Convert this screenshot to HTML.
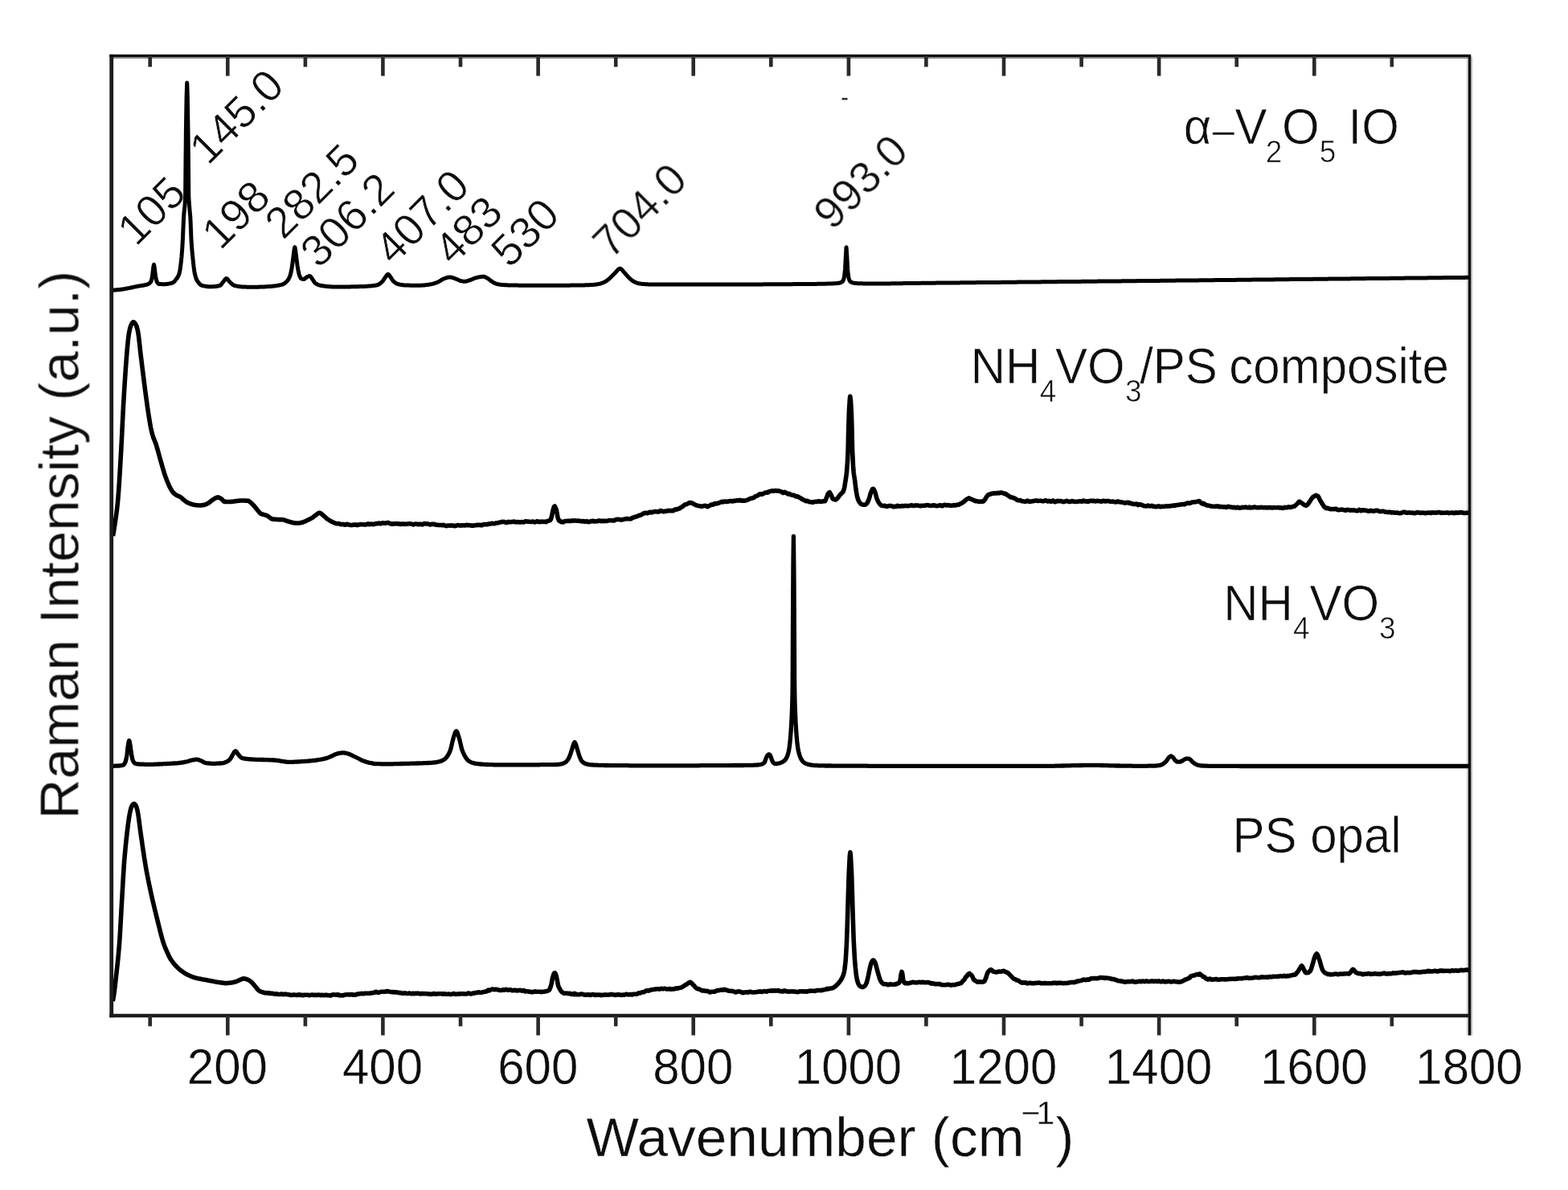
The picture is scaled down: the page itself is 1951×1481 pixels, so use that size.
<!DOCTYPE html>
<html lang="en">
<head>
<meta charset="utf-8">
<title>Raman spectra</title>
<style>
html,body{margin:0;padding:0;background:#fff;}
body{width:1951px;height:1481px;overflow:hidden;}
svg{display:block;}
text{font-family:"Liberation Sans","DejaVu Sans",sans-serif;fill:#111;white-space:pre;}
.tick{font-size:60px;text-anchor:middle;stroke:#fff;stroke-width:0.4;}
.axl{font-size:69.4px;stroke:#fff;stroke-width:0.4;}
.leg{font-size:60px;stroke:#fff;stroke-width:0.6;}
.pk{font-size:55px;stroke:#fff;stroke-width:0.6;}
.c{fill:none;stroke:#000;stroke-linejoin:round;stroke-linecap:butt;}
.fr{fill:none;stroke:#1e1e1e;stroke-width:4.6;}
.tk{stroke:#2a2a2a;stroke-width:4.6;fill:none;}
</style>
</head>
<body>
<svg width="1951" height="1481" viewBox="0 0 1951 1481">
<defs><filter id="soft" x="-2%" y="-2%" width="104%" height="104%"><feGaussianBlur stdDeviation="0.7"/></filter>
<filter id="softt" x="-5%" y="-5%" width="110%" height="110%"><feGaussianBlur stdDeviation="0.65"/></filter></defs>
<rect x="0" y="0" width="1951" height="1481" fill="#fff"/>

<g filter="url(#softt)">
<text class="pk" transform="translate(169.3,308) rotate(-45)">105</text>
<text class="pk" transform="translate(258.8,207) rotate(-45)">145.0</text>
<text class="pk" transform="translate(274.2,312.8) rotate(-45)">198</text>
<text class="pk" transform="translate(352.6,299.8) rotate(-45)">282.5</text>
<text class="pk" transform="translate(396.8,335.4) rotate(-45)">306.2</text>
<text class="pk" transform="translate(489.5,331.6) rotate(-45)">407.0</text>
<text class="pk" transform="translate(563.6,332) rotate(-45)">483</text>
<text class="pk" transform="translate(634,335.1) rotate(-45)">530</text>
<text class="pk" transform="translate(760.4,323.8) rotate(-45)">704.0</text>
<text class="pk" transform="translate(1035.4,288.2) rotate(-45)">993.0</text>
</g>
<g filter="url(#soft)">
<path style="fill:none;stroke:#c9c9c9;stroke-width:7.4" d="M1828.6,71.3 L1828.6,1288.6"/>
<path style="fill:none;stroke:#8c8c8c;stroke-width:2.4" d="M138.7,71.89999999999999 L1828.6,71.89999999999999"/>
<path class="c" stroke-width="5.0" d="M139.0,361.3 140.0,361.2 141.0,361.2 142.0,361.1 143.0,361.0 144.0,360.9 145.0,360.8 146.0,360.7 147.0,360.6 148.0,360.5 149.0,360.4 150.0,360.3 151.0,360.2 152.0,360.0 153.0,359.9 154.0,359.7 155.0,359.6 156.0,359.4 157.0,359.2 158.0,359.0 159.0,358.8 160.0,358.6 161.0,358.4 162.0,358.2 163.0,358.0 164.0,357.8 165.0,357.6 166.0,357.3 167.0,357.1 168.0,356.9 169.0,356.7 170.0,356.5 171.0,356.3 172.0,356.1 173.0,355.9 174.0,355.8 175.0,355.6 176.0,355.5 177.0,355.3 178.0,355.2 179.0,355.0 180.0,354.8 181.0,354.6 182.0,354.3 183.0,354.0 184.0,353.7 184.5,353.5 185.0,353.3 186.0,352.6 187.0,351.6 187.8,350.5 188.0,350.1 189.0,346.5 189.3,345.0 190.0,339.5 190.3,337.0 191.0,331.3 191.5,329.3 192.0,331.3 192.7,337.0 193.0,339.5 193.7,345.0 194.0,346.5 195.0,350.1 195.2,350.5 196.0,351.9 197.0,353.1 197.6,353.4 198.0,353.4 199.0,353.5 200.0,353.6 201.0,353.6 202.0,353.7 203.0,353.7 204.0,353.7 204.3,353.7 205.0,353.7 206.0,353.6 207.0,353.6 208.0,353.5 209.0,353.3 210.0,353.1 211.0,352.9 212.0,352.7 213.0,352.4 214.0,352.2 214.5,352.0 215.0,351.8 216.0,351.2 217.0,350.2 218.0,349.1 219.0,347.8 219.9,346.6 220.0,346.5 221.0,345.0 222.0,343.1 223.0,340.5 223.2,339.9 224.0,336.1 225.0,328.7 225.9,320.3 226.0,319.3 227.0,305.2 227.3,300.0 228.0,283.6 228.6,270.0 229.0,264.8 230.0,255.8 230.6,244.0 231.0,200.0 231.4,162.0 232.0,124.2 232.1,120.0 232.7,103.0 233.0,108.6 233.3,120.0 234.0,162.0 234.4,200.0 234.8,244.0 235.0,249.0 236.0,261.4 236.8,270.0 237.0,273.9 238.0,298.3 238.1,300.0 239.0,312.0 239.8,320.3 240.0,322.3 241.0,331.6 242.0,338.9 242.2,339.9 243.0,343.3 244.0,346.6 244.9,348.6 245.0,348.8 246.0,350.3 247.0,351.7 248.0,352.9 249.0,353.9 250.0,354.7 251.0,355.2 251.6,355.4 252.0,355.5 253.0,355.7 254.0,355.9 255.0,356.1 256.0,356.3 257.0,356.5 258.0,356.6 259.0,356.7 260.0,356.7 261.0,356.8 262.0,356.8 263.0,356.8 264.0,356.8 265.0,356.7 266.0,356.6 267.0,356.6 268.0,356.5 269.0,356.3 270.0,356.2 271.0,356.0 272.0,355.8 273.0,355.6 273.5,355.5 274.0,355.3 275.0,354.4 276.0,353.1 277.0,351.8 278.0,350.5 279.0,349.2 280.0,347.8 281.0,346.8 281.7,346.5 282.0,346.6 283.0,347.3 284.0,348.6 285.0,350.0 285.5,350.5 286.0,351.0 287.0,351.9 288.0,352.9 289.0,353.7 290.0,354.5 291.0,355.1 292.0,355.5 293.0,355.7 294.0,355.9 295.0,356.1 296.0,356.3 297.0,356.5 298.0,356.6 299.0,356.7 300.0,356.8 301.0,356.9 302.0,356.9 303.0,357.0 304.0,357.0 305.0,357.1 306.0,357.1 307.0,357.2 308.0,357.2 309.0,357.2 310.0,357.2 311.0,357.3 312.0,357.3 313.0,357.3 314.0,357.3 314.5,357.3 315.0,357.3 316.0,357.3 317.0,357.3 318.0,357.3 319.0,357.3 320.0,357.2 321.0,357.2 322.0,357.2 323.0,357.1 324.0,357.1 325.0,357.1 326.0,357.0 327.0,357.0 328.0,356.9 329.0,356.9 330.0,356.8 331.0,356.7 332.0,356.7 333.0,356.6 334.0,356.6 335.0,356.5 336.0,356.4 337.0,356.4 338.0,356.3 339.0,356.2 340.0,356.1 341.0,356.0 342.0,355.9 343.0,355.7 344.0,355.6 345.0,355.4 346.0,355.2 347.0,355.1 348.0,354.8 349.0,354.6 350.0,354.4 351.0,354.1 351.4,354.0 352.0,353.8 353.0,353.3 354.0,352.7 355.0,351.9 356.0,351.0 357.0,350.0 358.0,348.8 359.0,347.3 360.0,345.4 360.8,343.5 361.0,343.0 362.0,339.2 363.0,334.1 363.2,333.0 364.0,327.2 364.9,320.0 365.0,319.3 366.0,311.0 366.8,307.6 367.0,307.9 368.0,314.2 368.7,320.0 369.0,322.3 370.0,330.3 370.4,333.0 371.0,336.3 372.0,340.9 372.5,342.5 373.0,343.9 374.0,346.0 374.5,346.5 375.0,346.8 376.0,347.2 377.0,347.4 378.0,347.5 379.0,347.1 380.0,346.2 381.0,345.3 381.5,345.0 382.0,344.7 383.0,344.2 384.0,343.8 385.0,343.5 385.3,343.5 386.0,343.8 387.0,344.9 388.0,346.3 388.5,347.0 389.0,347.7 390.0,349.3 391.0,350.9 392.0,352.2 392.4,352.5 393.0,352.9 394.0,353.5 395.0,354.0 396.0,354.4 397.0,354.8 398.0,355.1 399.0,355.3 400.0,355.5 401.0,355.7 402.0,355.8 403.0,355.9 404.0,356.1 405.0,356.2 406.0,356.3 407.0,356.4 408.0,356.5 409.0,356.6 410.0,356.7 411.0,356.8 412.0,356.8 413.0,356.9 414.0,356.9 415.0,357.0 416.0,357.0 417.0,357.0 418.0,357.0 419.0,357.0 420.0,357.0 421.0,357.0 422.0,357.0 423.0,357.0 424.0,357.0 425.0,357.0 426.0,357.0 427.0,357.0 428.0,356.9 429.0,356.9 430.0,356.9 431.0,356.9 432.0,356.9 433.0,356.9 434.0,356.9 435.0,356.9 436.0,356.9 437.0,356.8 438.0,356.8 439.0,356.8 440.0,356.8 441.0,356.8 442.0,356.8 443.0,356.7 444.0,356.7 445.0,356.7 446.0,356.7 447.0,356.6 448.0,356.6 449.0,356.6 450.0,356.5 451.0,356.5 452.0,356.4 453.0,356.4 454.0,356.4 455.0,356.3 456.0,356.2 457.0,356.2 458.0,356.1 459.0,356.1 460.0,356.0 461.0,355.9 462.0,355.8 463.0,355.7 464.0,355.6 465.0,355.5 466.0,355.3 467.0,355.2 468.0,355.0 469.0,354.8 470.0,354.5 471.0,354.1 472.0,353.5 473.0,352.8 474.0,351.9 475.0,351.0 476.0,350.0 477.0,348.7 478.0,347.2 479.0,345.7 479.5,345.0 480.0,344.3 481.0,342.8 482.0,341.7 482.8,341.3 483.0,341.3 484.0,342.1 485.0,343.5 486.0,345.0 487.0,346.5 488.0,348.1 489.0,349.5 489.5,350.0 490.0,350.4 491.0,351.3 492.0,352.0 493.0,352.7 494.0,353.2 495.0,353.5 496.0,353.7 497.0,354.0 498.0,354.2 499.0,354.4 500.0,354.5 501.0,354.7 502.0,354.8 503.0,354.9 504.0,355.0 505.0,355.0 506.0,355.0 507.0,355.1 508.0,355.1 509.0,355.1 510.0,355.2 511.0,355.2 512.0,355.2 513.0,355.2 514.0,355.2 515.0,355.3 516.0,355.3 517.0,355.3 518.0,355.3 519.0,355.3 520.0,355.3 521.0,355.3 522.0,355.3 523.0,355.2 524.0,355.2 525.0,355.1 526.0,355.0 527.0,355.0 528.0,354.9 529.0,354.8 530.0,354.6 531.0,354.5 532.0,354.4 533.0,354.3 534.0,354.1 535.0,354.0 536.0,353.8 537.0,353.6 538.0,353.4 539.0,353.1 540.0,352.8 541.0,352.5 542.0,352.1 543.0,351.8 544.0,351.4 545.0,351.0 546.0,350.5 547.0,349.9 548.0,349.3 549.0,348.6 550.0,348.0 551.0,347.4 552.0,347.0 553.0,346.6 554.0,346.3 555.0,345.9 556.0,345.6 557.0,345.3 558.0,345.1 559.0,345.0 559.5,345.0 560.0,345.0 561.0,345.1 562.0,345.3 563.0,345.6 564.0,345.9 565.0,346.3 566.0,346.7 567.0,347.0 568.0,347.4 569.0,347.8 570.0,348.3 571.0,348.8 572.0,349.2 573.0,349.5 574.0,349.7 575.0,349.9 576.0,350.1 577.0,350.3 578.0,350.3 579.0,350.2 580.0,350.1 581.0,349.8 582.0,349.5 583.0,349.2 584.0,348.8 585.0,348.5 586.0,348.2 587.0,347.8 588.0,347.3 589.0,346.9 590.0,346.5 591.0,346.1 592.0,345.8 593.0,345.5 594.0,345.3 595.0,345.1 596.0,344.9 597.0,344.7 598.0,344.5 599.0,344.4 600.0,344.3 601.0,344.2 601.5,344.2 602.0,344.2 603.0,344.5 604.0,344.9 605.0,345.5 606.0,346.0 606.5,346.3 607.0,346.6 608.0,347.3 609.0,348.1 610.0,348.9 611.0,349.6 612.0,350.3 613.0,351.0 614.0,351.6 615.0,352.2 615.5,352.4 616.0,352.6 617.0,353.0 618.0,353.3 619.0,353.6 620.0,353.8 621.0,354.0 622.0,354.1 623.0,354.3 624.0,354.4 625.0,354.5 626.0,354.6 627.0,354.6 628.0,354.7 629.0,354.8 630.0,354.8 631.0,354.8 632.0,354.9 633.0,354.9 634.0,354.9 635.0,355.0 636.0,355.0 637.0,355.0 638.0,355.0 639.0,355.1 640.0,355.1 641.0,355.1 642.0,355.1 643.0,355.1 644.0,355.1 645.0,355.2 646.0,355.2 647.0,355.2 648.0,355.2 649.0,355.2 650.0,355.2 651.0,355.2 652.0,355.2 653.0,355.2 654.0,355.2 655.0,355.2 656.0,355.2 657.0,355.2 658.0,355.2 659.0,355.2 660.0,355.2 661.0,355.2 662.0,355.3 663.0,355.3 664.0,355.3 665.0,355.3 666.0,355.3 667.0,355.3 668.0,355.3 669.0,355.3 670.0,355.3 671.0,355.3 672.0,355.3 673.0,355.3 674.0,355.3 675.0,355.3 676.0,355.3 677.0,355.3 678.0,355.3 679.0,355.3 680.0,355.3 681.0,355.3 682.0,355.3 683.0,355.3 684.0,355.3 685.0,355.3 686.0,355.3 687.0,355.3 688.0,355.3 689.0,355.3 690.0,355.3 691.0,355.3 692.0,355.3 693.0,355.3 694.0,355.3 695.0,355.3 696.0,355.3 697.0,355.3 698.0,355.3 699.0,355.3 700.0,355.3 701.0,355.2 702.0,355.2 703.0,355.2 704.0,355.2 705.0,355.2 706.0,355.2 707.0,355.2 708.0,355.2 709.0,355.2 710.0,355.1 711.0,355.1 712.0,355.1 713.0,355.1 714.0,355.1 715.0,355.1 716.0,355.1 717.0,355.0 718.0,355.0 719.0,355.0 720.0,355.0 721.0,355.0 722.0,355.0 723.0,354.9 724.0,354.9 725.0,354.9 726.0,354.9 727.0,354.9 728.0,354.8 729.0,354.8 730.0,354.8 731.0,354.7 732.0,354.7 733.0,354.7 734.0,354.6 735.0,354.6 736.0,354.5 737.0,354.5 738.0,354.4 739.0,354.3 740.0,354.2 741.0,354.1 742.0,354.0 743.0,353.8 744.0,353.6 745.0,353.4 746.0,353.2 747.0,353.0 748.0,352.7 749.0,352.3 750.0,351.9 751.0,351.5 752.0,351.0 753.0,350.5 754.0,349.9 755.0,349.3 756.0,348.5 757.0,347.7 758.0,346.9 759.0,346.0 760.0,345.1 761.0,344.1 762.0,343.1 763.0,342.0 764.0,341.0 765.0,340.0 766.0,338.9 767.0,337.8 768.0,336.6 769.0,335.5 770.0,334.7 771.0,334.2 771.4,334.2 772.0,334.3 773.0,334.9 774.0,335.8 775.0,337.0 776.0,338.3 777.0,339.5 777.5,340.0 778.0,340.5 779.0,341.6 780.0,342.8 781.0,343.9 782.0,345.0 783.0,346.0 784.0,346.9 785.0,347.8 786.0,348.6 787.0,349.4 788.0,350.0 788.5,350.3 789.0,350.6 790.0,351.1 791.0,351.5 792.0,351.9 793.0,352.3 794.0,352.6 795.0,352.8 796.0,353.0 797.0,353.1 798.0,353.3 799.0,353.4 800.0,353.5 801.0,353.6 802.0,353.6 803.0,353.7 804.0,353.7 805.0,353.8 806.0,353.8 807.0,353.9 808.0,353.9 809.0,353.9 810.0,353.9 811.0,354.0 812.0,354.0 813.0,354.0 814.0,354.0 815.0,354.0 816.0,354.0 817.0,354.0 818.0,354.0 819.0,354.0 820.0,354.0 821.0,354.0 822.0,354.0 823.0,354.0 824.0,354.0 825.0,354.0 826.0,354.0 827.0,354.0 828.0,354.0 829.0,354.0 830.0,354.0 831.0,354.0 832.0,354.0 833.0,354.0 834.0,354.0 835.0,354.0 836.0,354.0 837.0,354.0 838.0,354.0 839.0,354.0 840.0,354.0 841.0,354.0 842.0,354.0 843.0,354.0 844.0,354.0 845.0,354.0 846.0,354.0 847.0,354.0 848.0,354.0 849.0,354.0 850.0,354.0 851.0,354.0 852.0,354.0 853.0,354.0 854.0,354.0 855.0,354.0 856.0,354.0 857.0,354.0 858.0,354.0 859.0,354.0 860.0,354.0 861.0,354.0 862.0,354.0 863.0,354.0 864.0,354.0 865.0,354.0 866.0,354.0 867.0,354.0 868.0,354.0 869.0,354.0 870.0,354.0 871.0,354.0 872.0,354.0 873.0,354.0 874.0,354.0 875.0,354.0 876.0,354.0 877.0,354.0 878.0,354.0 879.0,354.0 880.0,354.0 881.0,354.0 882.0,354.0 883.0,354.0 884.0,354.0 885.0,354.0 886.0,354.0 887.0,354.0 888.0,354.0 889.0,354.0 890.0,354.0 891.0,354.0 892.0,354.0 893.0,354.0 894.0,354.0 895.0,354.0 896.0,354.0 897.0,354.0 898.0,354.0 899.0,354.0 900.0,354.0 901.0,354.0 902.0,354.0 903.0,354.0 904.0,354.0 905.0,354.0 906.0,354.0 907.0,354.0 908.0,354.0 909.0,354.0 910.0,354.0 911.0,354.0 912.0,354.0 913.0,354.0 914.0,354.0 915.0,354.0 916.0,354.0 917.0,354.0 918.0,354.0 919.0,354.0 920.0,354.0 921.0,354.0 922.0,354.0 923.0,354.0 924.0,354.0 925.0,354.0 926.0,354.0 927.0,353.9 928.0,353.9 929.0,353.9 930.0,353.9 931.0,353.9 932.0,353.9 933.0,353.9 934.0,353.9 935.0,353.9 936.0,353.9 937.0,353.9 938.0,353.9 939.0,353.9 940.0,353.9 941.0,353.9 942.0,353.9 943.0,353.9 944.0,353.9 945.0,353.9 946.0,353.9 947.0,353.9 948.0,353.9 949.0,353.9 950.0,353.8 951.0,353.8 952.0,353.8 953.0,353.8 954.0,353.8 955.0,353.8 956.0,353.8 957.0,353.8 958.0,353.8 959.0,353.8 960.0,353.8 961.0,353.8 962.0,353.8 963.0,353.8 964.0,353.8 965.0,353.8 966.0,353.8 967.0,353.8 968.0,353.8 969.0,353.8 970.0,353.7 971.0,353.7 972.0,353.7 973.0,353.7 974.0,353.7 975.0,353.7 976.0,353.7 977.0,353.7 978.0,353.7 979.0,353.7 980.0,353.7 981.0,353.7 982.0,353.7 983.0,353.7 984.0,353.7 985.0,353.7 986.0,353.7 987.0,353.6 988.0,353.6 989.0,353.6 990.0,353.6 991.0,353.6 992.0,353.6 993.0,353.6 994.0,353.6 995.0,353.6 996.0,353.6 997.0,353.6 998.0,353.6 999.0,353.5 1000.0,353.5 1001.0,353.5 1002.0,353.5 1003.0,353.5 1004.0,353.5 1005.0,353.5 1006.0,353.5 1007.0,353.5 1008.0,353.5 1009.0,353.4 1010.0,353.4 1011.0,353.4 1012.0,353.4 1013.0,353.4 1014.0,353.4 1015.0,353.4 1016.0,353.4 1017.0,353.3 1018.0,353.3 1019.0,353.3 1020.0,353.3 1021.0,353.3 1022.0,353.3 1023.0,353.3 1024.0,353.2 1025.0,353.2 1026.0,353.2 1027.0,353.2 1028.0,353.2 1029.0,353.1 1030.0,353.1 1031.0,353.1 1032.0,353.0 1033.0,353.0 1034.0,353.0 1035.0,352.9 1036.0,352.9 1037.0,352.8 1038.0,352.8 1039.0,352.7 1040.0,352.7 1041.0,352.6 1042.0,352.5 1043.0,352.3 1044.0,352.2 1045.0,352.0 1046.0,351.7 1047.0,351.2 1048.0,350.5 1048.6,350.0 1049.0,349.4 1050.0,346.6 1050.4,345.0 1051.0,340.6 1051.5,335.0 1052.0,325.8 1052.3,320.0 1053.0,308.1 1053.1,307.8 1053.9,320.0 1054.0,321.8 1054.7,335.0 1055.0,338.5 1055.8,345.0 1056.0,345.9 1057.0,349.0 1057.6,350.0 1058.0,350.4 1059.0,351.1 1060.0,351.6 1061.0,352.0 1061.2,352.0 1062.0,352.1 1063.0,352.3 1064.0,352.4 1065.0,352.5 1066.0,352.6 1067.0,352.7 1068.0,352.7 1069.0,352.7 1070.0,352.8 1071.0,352.8 1072.0,352.8 1073.0,352.8 1074.0,352.9 1075.0,352.9 1076.0,352.9 1077.0,352.9 1078.0,352.9 1079.0,353.0 1080.0,353.0 1081.0,353.0 1082.0,353.0 1083.0,353.0 1084.0,353.0 1085.0,353.0 1086.0,353.0 1087.0,353.0 1088.0,353.0 1089.0,353.0 1090.0,353.0 1091.0,353.0 1092.0,353.0 1093.0,353.0 1094.0,353.0 1095.0,353.0 1096.0,353.0 1097.0,353.0 1098.0,352.9 1099.0,352.9 1100.0,352.9 1101.0,352.9 1102.0,352.9 1103.0,352.9 1104.0,352.9 1105.0,352.9 1106.0,352.9 1107.0,352.9 1108.0,352.9 1109.0,352.8 1110.0,352.8 1111.0,352.8 1112.0,352.8 1113.0,352.8 1114.0,352.8 1115.0,352.8 1116.0,352.8 1117.0,352.7 1118.0,352.7 1119.0,352.7 1120.0,352.7 1121.0,352.7 1122.0,352.7 1123.0,352.7 1124.0,352.6 1125.0,352.6 1126.0,352.6 1127.0,352.6 1128.0,352.6 1129.0,352.6 1130.0,352.6 1131.0,352.5 1132.0,352.5 1133.0,352.5 1134.0,352.5 1135.0,352.5 1136.0,352.5 1137.0,352.5 1138.0,352.4 1139.0,352.4 1140.0,352.4 1141.0,352.4 1142.0,352.4 1143.0,352.4 1144.0,352.4 1145.0,352.4 1146.0,352.3 1147.0,352.3 1148.0,352.3 1149.0,352.3 1150.0,352.3 1151.0,352.3 1152.0,352.3 1153.0,352.3 1154.0,352.3 1155.0,352.2 1156.0,352.2 1157.0,352.2 1158.0,352.2 1159.0,352.2 1160.0,352.2 1161.0,352.2 1162.0,352.2 1163.0,352.2 1164.0,352.2 1165.0,352.1 1166.0,352.1 1167.0,352.1 1168.0,352.1 1169.0,352.1 1170.0,352.1 1171.0,352.1 1172.0,352.1 1173.0,352.1 1174.0,352.1 1175.0,352.0 1176.0,352.0 1177.0,352.0 1178.0,352.0 1179.0,352.0 1180.0,352.0 1181.0,352.0 1182.0,352.0 1183.0,352.0 1184.0,352.0 1185.0,351.9 1186.0,351.9 1187.0,351.9 1188.0,351.9 1189.0,351.9 1190.0,351.9 1191.0,351.9 1192.0,351.9 1193.0,351.9 1194.0,351.9 1195.0,351.8 1196.0,351.8 1197.0,351.8 1198.0,351.8 1199.0,351.8 1200.0,351.8 1201.0,351.8 1202.0,351.8 1203.0,351.8 1204.0,351.8 1205.0,351.7 1206.0,351.7 1207.0,351.7 1208.0,351.7 1209.0,351.7 1210.0,351.7 1211.0,351.7 1212.0,351.7 1213.0,351.7 1214.0,351.7 1215.0,351.6 1216.0,351.6 1217.0,351.6 1218.0,351.6 1219.0,351.6 1220.0,351.6 1221.0,351.6 1222.0,351.6 1223.0,351.6 1224.0,351.6 1225.0,351.5 1226.0,351.5 1227.0,351.5 1228.0,351.5 1229.0,351.5 1230.0,351.5 1231.0,351.5 1232.0,351.5 1233.0,351.5 1234.0,351.5 1235.0,351.5 1236.0,351.4 1237.0,351.4 1238.0,351.4 1239.0,351.4 1240.0,351.4 1241.0,351.4 1242.0,351.4 1243.0,351.4 1244.0,351.4 1245.0,351.4 1246.0,351.3 1247.0,351.3 1248.0,351.3 1249.0,351.3 1250.0,351.3 1251.0,351.3 1252.0,351.3 1253.0,351.3 1254.0,351.3 1255.0,351.3 1256.0,351.2 1257.0,351.2 1258.0,351.2 1259.0,351.2 1260.0,351.2 1261.0,351.2 1262.0,351.2 1263.0,351.2 1264.0,351.2 1265.0,351.2 1266.0,351.1 1267.0,351.1 1268.0,351.1 1269.0,351.1 1270.0,351.1 1271.0,351.1 1272.0,351.1 1273.0,351.1 1274.0,351.1 1275.0,351.1 1276.0,351.0 1277.0,351.0 1278.0,351.0 1279.0,351.0 1280.0,351.0 1281.0,351.0 1282.0,351.0 1283.0,351.0 1284.0,351.0 1285.0,351.0 1286.0,350.9 1287.0,350.9 1288.0,350.9 1289.0,350.9 1290.0,350.9 1291.0,350.9 1292.0,350.9 1293.0,350.9 1294.0,350.9 1295.0,350.9 1296.0,350.8 1297.0,350.8 1298.0,350.8 1299.0,350.8 1300.0,350.8 1301.0,350.8 1302.0,350.8 1303.0,350.8 1304.0,350.8 1305.0,350.8 1306.0,350.7 1307.0,350.7 1308.0,350.7 1309.0,350.7 1310.0,350.7 1311.0,350.7 1312.0,350.7 1313.0,350.7 1314.0,350.7 1315.0,350.7 1316.0,350.6 1317.0,350.6 1318.0,350.6 1319.0,350.6 1320.0,350.6 1321.0,350.6 1322.0,350.6 1323.0,350.6 1324.0,350.6 1325.0,350.6 1326.0,350.5 1327.0,350.5 1328.0,350.5 1329.0,350.5 1330.0,350.5 1331.0,350.5 1332.0,350.5 1333.0,350.5 1334.0,350.5 1335.0,350.5 1336.0,350.4 1337.0,350.4 1338.0,350.4 1339.0,350.4 1340.0,350.4 1341.0,350.4 1342.0,350.4 1343.0,350.4 1344.0,350.4 1345.0,350.4 1346.0,350.3 1347.0,350.3 1348.0,350.3 1349.0,350.3 1350.0,350.3 1351.0,350.3 1352.0,350.3 1353.0,350.3 1354.0,350.3 1355.0,350.3 1356.0,350.2 1357.0,350.2 1358.0,350.2 1359.0,350.2 1360.0,350.2 1361.0,350.2 1362.0,350.2 1363.0,350.2 1364.0,350.2 1365.0,350.2 1366.0,350.1 1367.0,350.1 1368.0,350.1 1369.0,350.1 1370.0,350.1 1371.0,350.1 1372.0,350.1 1373.0,350.1 1374.0,350.1 1375.0,350.1 1376.0,350.0 1377.0,350.0 1378.0,350.0 1379.0,350.0 1380.0,350.0 1381.0,350.0 1382.0,350.0 1383.0,350.0 1384.0,350.0 1385.0,350.0 1386.0,349.9 1387.0,349.9 1388.0,349.9 1389.0,349.9 1390.0,349.9 1391.0,349.9 1392.0,349.9 1393.0,349.9 1394.0,349.9 1395.0,349.9 1396.0,349.8 1397.0,349.8 1398.0,349.8 1399.0,349.8 1400.0,349.8 1401.0,349.8 1402.0,349.8 1403.0,349.8 1404.0,349.8 1405.0,349.7 1406.0,349.7 1407.0,349.7 1408.0,349.7 1409.0,349.7 1410.0,349.7 1411.0,349.7 1412.0,349.7 1413.0,349.7 1414.0,349.7 1415.0,349.6 1416.0,349.6 1417.0,349.6 1418.0,349.6 1419.0,349.6 1420.0,349.6 1421.0,349.6 1422.0,349.6 1423.0,349.6 1424.0,349.6 1425.0,349.5 1426.0,349.5 1427.0,349.5 1428.0,349.5 1429.0,349.5 1430.0,349.5 1431.0,349.5 1432.0,349.5 1433.0,349.5 1434.0,349.4 1435.0,349.4 1436.0,349.4 1437.0,349.4 1438.0,349.4 1439.0,349.4 1440.0,349.4 1441.0,349.4 1442.0,349.4 1443.0,349.4 1444.0,349.3 1445.0,349.3 1446.0,349.3 1447.0,349.3 1448.0,349.3 1449.0,349.3 1450.0,349.3 1451.0,349.3 1452.0,349.3 1453.0,349.3 1454.0,349.2 1455.0,349.2 1456.0,349.2 1457.0,349.2 1458.0,349.2 1459.0,349.2 1460.0,349.2 1461.0,349.2 1462.0,349.2 1463.0,349.1 1464.0,349.1 1465.0,349.1 1466.0,349.1 1467.0,349.1 1468.0,349.1 1469.0,349.1 1470.0,349.1 1471.0,349.1 1472.0,349.1 1473.0,349.0 1474.0,349.0 1475.0,349.0 1476.0,349.0 1477.0,349.0 1478.0,349.0 1479.0,349.0 1480.0,349.0 1481.0,349.0 1482.0,348.9 1483.0,348.9 1484.0,348.9 1485.0,348.9 1486.0,348.9 1487.0,348.9 1488.0,348.9 1489.0,348.9 1490.0,348.9 1491.0,348.9 1492.0,348.8 1493.0,348.8 1494.0,348.8 1495.0,348.8 1496.0,348.8 1497.0,348.8 1498.0,348.8 1499.0,348.8 1500.0,348.8 1501.0,348.7 1502.0,348.7 1503.0,348.7 1504.0,348.7 1505.0,348.7 1506.0,348.7 1507.0,348.7 1508.0,348.7 1509.0,348.7 1510.0,348.7 1511.0,348.6 1512.0,348.6 1513.0,348.6 1514.0,348.6 1515.0,348.6 1516.0,348.6 1517.0,348.6 1518.0,348.6 1519.0,348.6 1520.0,348.5 1521.0,348.5 1522.0,348.5 1523.0,348.5 1524.0,348.5 1525.0,348.5 1526.0,348.5 1527.0,348.5 1528.0,348.5 1529.0,348.4 1530.0,348.4 1531.0,348.4 1532.0,348.4 1533.0,348.4 1534.0,348.4 1535.0,348.4 1536.0,348.4 1537.0,348.4 1538.0,348.4 1539.0,348.3 1540.0,348.3 1541.0,348.3 1542.0,348.3 1543.0,348.3 1544.0,348.3 1545.0,348.3 1546.0,348.3 1547.0,348.3 1548.0,348.2 1549.0,348.2 1550.0,348.2 1551.0,348.2 1552.0,348.2 1553.0,348.2 1554.0,348.2 1555.0,348.2 1556.0,348.2 1557.0,348.2 1558.0,348.1 1559.0,348.1 1560.0,348.1 1561.0,348.1 1562.0,348.1 1563.0,348.1 1564.0,348.1 1565.0,348.1 1566.0,348.1 1567.0,348.0 1568.0,348.0 1569.0,348.0 1570.0,348.0 1571.0,348.0 1572.0,348.0 1573.0,348.0 1574.0,348.0 1575.0,348.0 1576.0,348.0 1577.0,347.9 1578.0,347.9 1579.0,347.9 1580.0,347.9 1581.0,347.9 1582.0,347.9 1583.0,347.9 1584.0,347.9 1585.0,347.9 1586.0,347.8 1587.0,347.8 1588.0,347.8 1589.0,347.8 1590.0,347.8 1591.0,347.8 1592.0,347.8 1593.0,347.8 1594.0,347.8 1595.0,347.8 1596.0,347.7 1597.0,347.7 1598.0,347.7 1599.0,347.7 1600.0,347.7 1601.0,347.7 1602.0,347.7 1603.0,347.7 1604.0,347.7 1605.0,347.6 1606.0,347.6 1607.0,347.6 1608.0,347.6 1609.0,347.6 1610.0,347.6 1611.0,347.6 1612.0,347.6 1613.0,347.6 1614.0,347.6 1615.0,347.5 1616.0,347.5 1617.0,347.5 1618.0,347.5 1619.0,347.5 1620.0,347.5 1621.0,347.5 1622.0,347.5 1623.0,347.5 1624.0,347.4 1625.0,347.4 1626.0,347.4 1627.0,347.4 1628.0,347.4 1629.0,347.4 1630.0,347.4 1631.0,347.4 1632.0,347.4 1633.0,347.4 1634.0,347.3 1635.0,347.3 1636.0,347.3 1637.0,347.3 1638.0,347.3 1639.0,347.3 1640.0,347.3 1641.0,347.3 1642.0,347.3 1643.0,347.2 1644.0,347.2 1645.0,347.2 1646.0,347.2 1647.0,347.2 1648.0,347.2 1649.0,347.2 1650.0,347.2 1651.0,347.2 1652.0,347.2 1653.0,347.1 1654.0,347.1 1655.0,347.1 1656.0,347.1 1657.0,347.1 1658.0,347.1 1659.0,347.1 1660.0,347.1 1661.0,347.1 1662.0,347.0 1663.0,347.0 1664.0,347.0 1665.0,347.0 1666.0,347.0 1667.0,347.0 1668.0,347.0 1669.0,347.0 1670.0,347.0 1671.0,347.0 1672.0,346.9 1673.0,346.9 1674.0,346.9 1675.0,346.9 1676.0,346.9 1677.0,346.9 1678.0,346.9 1679.0,346.9 1680.0,346.9 1681.0,346.8 1682.0,346.8 1683.0,346.8 1684.0,346.8 1685.0,346.8 1686.0,346.8 1687.0,346.8 1688.0,346.8 1689.0,346.8 1690.0,346.8 1691.0,346.7 1692.0,346.7 1693.0,346.7 1694.0,346.7 1695.0,346.7 1696.0,346.7 1697.0,346.7 1698.0,346.7 1699.0,346.7 1700.0,346.6 1701.0,346.6 1702.0,346.6 1703.0,346.6 1704.0,346.6 1705.0,346.6 1706.0,346.6 1707.0,346.6 1708.0,346.6 1709.0,346.6 1710.0,346.5 1711.0,346.5 1712.0,346.5 1713.0,346.5 1714.0,346.5 1715.0,346.5 1716.0,346.5 1717.0,346.5 1718.0,346.5 1719.0,346.5 1720.0,346.4 1721.0,346.4 1722.0,346.4 1723.0,346.4 1724.0,346.4 1725.0,346.4 1726.0,346.4 1727.0,346.4 1728.0,346.4 1729.0,346.3 1730.0,346.3 1731.0,346.3 1732.0,346.3 1733.0,346.3 1734.0,346.3 1735.0,346.3 1736.0,346.3 1737.0,346.3 1738.0,346.3 1739.0,346.2 1740.0,346.2 1741.0,346.2 1742.0,346.2 1743.0,346.2 1744.0,346.2 1745.0,346.2 1746.0,346.2 1747.0,346.2 1748.0,346.1 1749.0,346.1 1750.0,346.1 1751.0,346.1 1752.0,346.1 1753.0,346.1 1754.0,346.1 1755.0,346.1 1756.0,346.1 1757.0,346.1 1758.0,346.0 1759.0,346.0 1760.0,346.0 1761.0,346.0 1762.0,346.0 1763.0,346.0 1764.0,346.0 1765.0,346.0 1766.0,346.0 1767.0,345.9 1768.0,345.9 1769.0,345.9 1770.0,345.9 1771.0,345.9 1772.0,345.9 1773.0,345.9 1774.0,345.9 1775.0,345.9 1776.0,345.9 1777.0,345.8 1778.0,345.8 1779.0,345.8 1780.0,345.8 1781.0,345.8 1782.0,345.8 1783.0,345.8 1784.0,345.8 1785.0,345.8 1786.0,345.7 1787.0,345.7 1788.0,345.7 1789.0,345.7 1790.0,345.7 1791.0,345.7 1792.0,345.7 1793.0,345.7 1794.0,345.7 1795.0,345.7 1796.0,345.6 1797.0,345.6 1798.0,345.6 1799.0,345.6 1800.0,345.6 1801.0,345.6 1802.0,345.6 1803.0,345.6 1804.0,345.6 1805.0,345.5 1806.0,345.5 1807.0,345.5 1808.0,345.5 1809.0,345.5 1810.0,345.5 1811.0,345.5 1812.0,345.5 1813.0,345.5 1814.0,345.5 1815.0,345.4 1816.0,345.4 1817.0,345.4 1818.0,345.4 1819.0,345.4 1820.0,345.4 1821.0,345.4 1822.0,345.4 1823.0,345.4 1824.0,345.3 1825.0,345.3 1826.0,345.3 1827.0,345.3 1828.0,345.3 1828.5,345.3"/>
<path class="c" stroke-width="5.6" d="M140.5,667.0 141.5,661.3 142.5,655.0 143.5,648.5 144.5,641.8 145.5,634.2 146.4,626.0 146.5,625.0 147.5,613.0 148.5,598.2 149.5,581.7 150.5,564.5 151.5,545.3 152.5,524.3 153.5,504.7 153.6,503.0 154.5,487.8 155.5,471.9 156.5,457.1 157.5,443.9 157.7,441.5 158.5,432.1 159.5,421.8 160.0,418.0 160.5,414.8 161.5,409.5 162.5,406.0 163.5,403.7 164.5,401.9 165.5,400.9 165.9,400.8 166.5,401.0 167.5,401.8 168.5,403.2 169.0,404.0 169.5,405.0 170.5,408.0 171.5,412.0 172.5,418.3 173.5,427.0 174.5,436.3 175.1,441.5 175.5,444.8 176.5,453.0 177.5,461.1 178.5,469.2 179.5,477.1 180.2,482.5 180.5,484.8 181.5,492.3 182.5,499.7 183.5,506.8 184.5,513.7 185.4,519.4 185.5,520.0 186.5,526.1 187.5,531.7 188.4,536.0 188.5,536.4 189.5,540.2 190.5,543.5 191.0,545.0 191.5,546.4 192.5,548.7 193.5,551.2 193.6,551.5 194.5,554.2 195.5,557.6 196.5,561.1 197.5,564.8 198.5,568.5 199.5,572.0 199.7,572.7 200.5,575.4 201.5,578.9 202.5,582.4 203.5,585.8 204.5,589.1 205.5,592.1 205.9,593.2 206.5,594.8 207.5,597.5 208.5,600.0 209.5,602.4 210.5,604.7 211.5,606.7 212.0,607.6 212.5,608.5 213.5,610.2 214.5,611.7 215.5,613.0 216.0,613.5 216.5,614.0 217.5,614.8 218.5,615.6 219.5,616.2 220.0,616.5 220.5,616.8 221.5,617.2 222.5,617.6 223.5,618.1 224.3,618.5 224.5,618.6 225.5,619.4 226.5,620.2 227.5,621.1 228.0,621.5 228.5,621.9 229.5,622.8 230.5,623.6 231.5,624.4 232.5,625.0 233.5,625.5 234.5,626.0 235.5,626.4 236.5,626.8 237.5,627.1 238.0,627.3 238.5,627.5 239.5,627.8 240.5,628.0 241.5,628.3 242.5,628.5 242.8,628.5 243.5,628.6 244.5,628.7 245.5,628.8 246.5,628.9 247.5,629.0 248.5,629.0 249.0,629.0 249.5,629.0 250.5,628.9 251.5,628.8 252.5,628.6 253.5,628.5 254.5,628.2 255.1,628.1 255.5,628.0 256.5,627.6 257.5,627.1 258.5,626.6 259.5,626.0 260.5,625.3 261.5,624.5 262.5,623.6 263.3,623.0 263.5,622.9 264.5,622.1 265.5,621.4 266.5,620.8 267.0,620.5 267.5,620.2 268.5,619.7 269.5,619.3 270.5,619.0 271.1,618.9 271.5,618.9 272.5,619.2 273.5,619.7 274.5,620.2 275.0,620.5 275.5,620.8 276.5,621.8 277.5,622.9 278.5,623.9 279.5,624.4 279.7,624.4 280.5,624.4 281.5,624.4 282.5,624.5 283.5,624.5 284.5,624.5 285.5,624.5 286.0,624.5 286.5,624.5 287.5,624.4 288.5,624.3 289.5,624.2 290.5,624.1 291.5,623.9 292.5,623.8 293.5,623.7 294.0,623.6 294.5,623.5 295.5,623.4 296.5,623.3 297.5,623.2 298.5,623.1 299.5,623.0 300.5,623.0 301.0,623.0 301.5,623.0 302.5,623.0 303.5,623.0 304.5,623.0 305.5,623.1 306.5,623.1 307.5,623.2 308.4,623.2 308.5,623.2 309.5,623.6 310.5,624.3 311.5,625.1 312.5,626.0 313.5,626.9 314.5,627.8 315.5,628.9 316.5,630.0 316.6,630.1 317.5,631.2 318.5,632.5 319.5,633.8 320.5,635.0 321.5,636.2 322.5,637.4 323.5,638.4 324.5,639.2 324.8,639.4 325.5,639.7 326.5,640.0 327.5,640.3 328.5,640.6 329.5,640.9 330.5,641.1 331.5,641.4 332.0,641.6 332.5,641.8 333.5,642.5 334.5,643.3 335.5,644.0 336.5,644.7 337.5,645.4 338.5,645.9 339.1,646.1 339.5,646.1 340.5,646.3 341.5,646.3 342.5,646.4 343.5,646.4 344.5,646.5 345.0,646.5 345.5,646.5 346.5,646.6 347.5,646.6 348.5,646.6 349.5,646.6 350.5,646.7 351.4,646.7 351.5,646.7 352.5,646.8 353.5,647.1 354.5,647.4 355.5,647.8 356.5,648.2 357.5,648.5 358.5,648.9 359.0,649.0 359.5,649.1 360.5,649.4 361.5,649.7 362.5,650.0 363.5,650.3 364.5,650.6 365.5,650.8 366.5,650.9 367.5,651.0 367.8,651.0 368.5,651.0 369.5,651.0 370.5,651.0 371.5,651.0 372.0,651.0 372.5,651.0 373.5,650.8 374.5,650.6 375.5,650.3 376.0,650.2 376.5,650.1 377.5,649.7 378.5,649.3 379.5,648.9 380.5,648.4 381.5,647.9 382.0,647.7 382.5,647.5 383.5,647.0 384.5,646.5 385.5,646.0 386.5,645.5 387.5,645.0 388.3,644.5 388.5,644.4 389.5,643.7 390.5,642.9 391.5,642.1 392.5,641.3 393.0,641.0 393.5,640.7 394.5,639.9 395.5,639.1 396.5,638.6 397.5,638.3 397.6,638.3 398.5,638.5 399.5,639.1 400.5,640.0 401.5,640.9 402.0,641.3 402.5,641.7 403.5,642.6 404.5,643.5 405.5,644.4 406.5,645.3 406.8,645.5 407.5,646.0 408.5,646.7 409.5,647.3 410.5,648.0 411.5,648.5 412.5,649.1 413.0,649.3 413.5,649.5 414.5,650.0 415.5,650.5 416.5,650.9 417.5,651.3 418.5,651.6 419.1,651.7 419.5,651.8 420.5,651.7 421.5,651.5 422.5,651.9 423.5,652.5 424.5,652.6 425.5,652.5 426.5,652.4 427.5,652.7 428.0,652.9 428.5,653.1 429.5,653.3 430.5,652.8 431.5,652.3 432.5,652.4 433.5,652.9 434.5,653.2 435.5,653.2 436.5,653.4 437.5,653.6 438.5,653.4 439.5,653.0 440.5,653.1 441.5,653.1 442.5,652.9 443.5,653.3 444.5,653.6 445.5,653.3 446.5,653.0 447.5,652.8 448.5,652.6 449.5,652.6 450.5,652.7 451.5,652.7 452.5,652.7 453.5,653.0 454.5,652.9 455.5,652.7 456.5,652.5 457.5,652.0 458.0,651.8 458.5,652.4 459.5,652.7 460.5,652.5 461.5,652.1 462.5,652.2 463.5,652.5 464.5,652.6 465.5,652.3 466.5,652.0 467.5,651.7 468.5,651.5 469.5,651.6 470.0,651.6 470.5,651.2 471.5,651.1 472.5,651.6 473.5,651.7 474.5,651.4 475.5,650.9 476.5,650.8 477.5,651.0 478.5,651.1 479.5,651.2 480.5,650.9 481.5,650.5 482.5,650.6 483.5,650.6 484.5,651.0 485.5,651.8 486.5,651.9 487.5,651.8 488.0,652.2 488.5,652.0 489.5,651.7 490.5,651.9 491.5,652.0 492.5,651.6 493.5,651.5 494.5,652.0 495.5,652.0 496.5,651.7 497.5,652.2 498.5,652.5 499.0,652.3 499.5,652.2 500.5,652.1 501.5,652.0 502.5,652.3 503.5,652.4 504.5,652.1 505.5,652.2 506.5,652.3 507.5,652.0 508.5,651.8 509.5,651.7 510.5,651.8 511.5,652.2 512.5,652.2 513.5,652.4 514.5,652.9 515.5,652.5 516.5,652.1 517.5,652.1 518.5,652.2 519.5,652.4 520.0,652.4 520.5,652.7 521.5,652.6 522.5,652.2 523.5,652.3 524.5,652.6 525.5,652.9 526.5,652.5 527.5,651.8 528.5,651.5 529.5,651.7 530.5,652.0 531.5,652.0 532.5,652.0 533.5,652.2 534.5,652.7 535.5,652.9 536.5,652.5 537.5,652.3 538.5,652.4 539.5,652.3 540.5,652.4 541.5,652.8 542.5,653.2 543.5,653.2 544.5,653.2 545.5,653.5 546.5,653.5 547.5,653.5 548.5,653.5 549.5,653.5 550.5,653.7 550.8,653.8 551.5,653.4 552.5,653.5 553.5,654.0 554.5,654.4 555.5,654.6 556.5,654.2 557.5,654.0 558.5,654.0 559.5,654.1 560.5,654.2 561.5,653.9 562.5,654.0 563.5,654.1 564.5,654.2 565.0,654.4 565.5,654.6 566.5,654.5 567.5,654.2 568.5,653.9 569.5,653.6 570.5,653.6 571.5,653.9 572.5,654.1 573.5,653.9 574.5,653.8 575.5,653.9 576.5,653.8 577.5,653.7 578.5,653.9 579.5,653.8 580.5,653.2 581.5,653.4 582.5,653.8 583.5,653.8 584.5,653.6 585.5,653.9 586.5,654.2 587.5,654.0 588.5,654.1 589.5,654.1 590.5,653.8 591.5,653.7 592.5,653.6 593.5,653.3 594.5,653.3 595.0,653.6 595.5,653.5 596.5,653.2 597.5,653.3 598.5,653.8 599.5,653.7 600.5,653.2 601.5,652.7 602.5,652.5 603.5,652.8 604.5,652.7 605.5,652.5 606.1,652.8 606.5,652.8 607.5,652.2 608.5,651.9 609.5,651.9 610.5,651.9 611.5,651.5 612.5,651.3 613.5,651.6 614.5,651.7 615.5,651.6 616.0,651.5 616.5,651.1 617.5,651.0 618.5,651.0 619.5,650.8 620.5,650.4 621.5,650.1 622.5,650.0 623.5,649.8 624.5,649.5 625.5,649.3 626.5,649.5 626.6,649.5 627.5,649.6 628.5,649.8 629.5,650.2 630.5,650.4 631.5,649.9 632.5,649.4 633.5,649.5 634.5,649.7 635.5,649.7 636.5,649.5 637.5,649.4 638.5,649.4 639.5,649.2 640.0,649.0 640.5,649.2 641.5,649.7 642.5,649.9 643.5,649.6 644.5,649.5 645.5,649.7 646.5,649.9 647.5,650.0 648.5,649.8 649.5,649.6 650.5,649.9 651.5,649.9 652.5,649.4 653.3,649.0 653.5,648.8 654.5,648.8 655.5,649.0 656.5,649.1 657.5,649.1 658.5,649.2 659.5,649.4 660.5,649.5 661.5,649.4 662.5,649.1 663.5,649.1 664.5,649.7 665.5,649.9 666.5,649.5 667.5,649.3 668.0,648.8 668.5,648.7 669.5,649.3 670.5,649.6 671.5,649.2 672.5,649.2 673.5,649.4 674.5,649.1 675.5,649.2 676.5,649.4 677.5,649.2 678.5,649.5 679.5,649.6 680.0,649.0 680.5,648.7 681.5,648.6 682.5,648.1 683.5,647.8 684.5,647.8 685.5,645.9 686.5,642.4 687.5,637.5 688.3,634.1 688.5,633.4 689.5,630.5 690.2,630.0 690.5,630.5 691.5,632.7 692.0,633.9 692.5,635.7 693.5,641.3 694.0,643.6 694.5,645.5 695.5,648.1 696.0,648.0 696.5,648.1 697.5,649.2 698.5,649.6 699.0,649.4 699.5,649.6 700.5,649.9 701.5,649.4 702.5,648.7 703.5,648.5 704.5,648.5 705.5,648.5 706.0,648.4 706.5,648.3 707.5,648.4 708.5,648.3 709.5,648.5 710.5,648.5 711.5,648.0 712.5,647.8 713.5,648.0 714.5,648.2 714.8,648.0 715.5,647.9 716.5,648.0 717.5,648.2 718.5,648.3 719.5,648.1 720.5,648.2 721.5,648.4 722.5,648.5 723.5,648.7 724.5,649.0 725.0,648.8 725.5,648.5 726.5,648.8 727.5,649.3 728.5,649.2 729.5,648.6 730.5,648.7 731.5,649.5 732.5,649.6 733.5,649.3 734.5,649.0 735.3,648.6 735.5,648.8 736.5,648.8 737.5,648.3 738.5,648.4 739.5,649.0 740.5,648.9 741.5,648.6 742.5,648.7 743.5,648.8 744.5,648.2 745.0,647.9 745.5,648.0 746.5,648.3 747.5,648.6 748.5,648.3 749.5,648.3 750.5,648.7 751.5,648.4 752.5,648.3 753.5,648.5 754.5,648.5 755.5,648.3 755.8,648.3 756.5,647.9 757.5,647.6 758.5,647.7 759.5,647.8 760.5,647.8 761.5,647.6 762.5,647.7 763.5,648.0 764.5,647.7 765.5,646.9 766.5,646.8 767.5,646.5 768.5,646.2 769.5,646.5 770.0,646.6 770.5,646.5 771.5,646.6 772.5,646.9 773.5,647.0 774.5,646.7 775.5,646.5 776.5,646.2 777.5,646.0 778.5,645.8 779.5,645.6 780.5,645.6 781.5,645.7 782.5,645.8 783.5,645.7 784.5,645.9 785.5,645.6 786.5,644.6 787.5,644.2 788.5,644.1 789.5,643.6 790.5,643.2 791.5,643.1 792.5,642.8 793.5,642.3 794.5,641.9 795.0,641.5 795.5,641.2 796.5,641.3 797.5,640.9 798.5,640.2 799.5,639.9 800.5,639.1 801.5,638.6 802.5,638.6 803.0,638.3 803.5,638.3 804.5,638.5 805.5,638.7 806.5,638.4 807.5,637.8 808.5,637.3 809.5,637.3 810.0,637.8 810.5,638.0 811.5,637.4 812.5,637.0 813.5,637.1 814.5,636.8 815.5,636.5 816.5,636.6 817.3,636.8 817.5,636.9 818.5,637.0 819.5,637.0 820.5,636.4 821.5,635.5 822.5,635.5 823.5,636.0 824.5,636.5 825.5,636.7 826.5,636.4 827.5,636.1 828.0,636.4 828.5,636.4 829.5,636.1 830.5,635.8 831.5,635.4 832.5,635.5 833.5,635.7 834.5,635.5 835.5,635.6 836.5,635.8 837.5,635.7 837.8,635.6 838.5,635.1 839.5,634.2 840.5,633.9 841.5,634.1 842.5,634.0 843.0,633.5 843.5,633.2 844.5,633.2 845.5,632.9 846.5,631.9 847.5,631.3 848.0,631.2 848.5,630.7 849.5,630.2 850.5,629.4 851.5,628.4 852.5,627.8 853.0,627.7 853.5,627.7 854.5,627.5 855.5,627.0 856.5,626.3 857.5,625.7 858.3,625.5 858.5,625.8 859.5,625.9 860.5,625.8 861.5,626.3 862.5,626.9 863.5,627.3 864.5,627.9 865.5,628.5 866.5,628.8 867.5,629.1 868.5,629.4 869.5,629.6 870.5,629.7 871.5,630.0 872.5,630.3 873.5,630.2 874.5,629.9 875.5,629.6 876.5,629.4 877.5,629.4 878.5,629.6 878.8,629.8 879.5,630.4 880.5,630.6 881.5,629.9 882.5,629.5 883.5,629.1 884.5,628.3 885.5,628.0 886.5,628.2 887.5,628.1 888.0,627.6 888.5,626.9 889.5,626.6 890.5,626.8 891.5,626.9 892.5,626.5 893.5,626.2 894.5,626.0 895.5,625.5 896.5,625.1 897.5,624.6 898.5,624.3 899.3,624.5 899.5,624.9 900.5,624.6 901.5,624.0 902.5,624.0 903.5,624.3 904.5,624.5 905.5,624.3 906.5,623.9 907.5,623.6 908.5,623.6 909.5,623.6 910.0,623.6 910.5,623.8 911.5,624.0 912.5,623.5 913.5,623.1 914.5,623.4 915.5,623.3 916.5,622.8 917.5,622.7 918.5,623.0 919.5,623.0 920.0,622.6 920.5,622.4 921.5,622.7 922.5,623.1 923.5,623.2 924.5,622.9 925.5,623.2 926.5,623.2 927.5,622.8 928.5,622.7 929.5,622.4 930.5,622.0 930.8,621.7 931.5,621.4 932.5,620.9 933.5,620.4 934.5,620.2 935.5,620.0 936.5,619.9 937.5,619.6 938.5,618.9 939.0,618.5 939.5,618.1 940.5,617.4 941.5,617.2 942.5,616.9 943.5,616.2 944.5,615.3 945.5,614.7 946.5,614.8 947.2,615.0 947.5,615.3 948.5,615.0 949.5,614.6 950.5,614.1 951.5,613.6 952.5,613.1 953.5,612.9 954.5,613.1 955.5,613.0 956.0,612.3 956.5,611.8 957.5,611.8 958.5,611.4 959.5,611.1 960.5,610.9 961.5,610.8 962.5,611.1 963.5,611.0 964.5,610.6 964.6,610.6 965.5,610.7 966.5,610.9 967.5,610.9 968.5,610.8 969.5,611.1 970.5,611.5 971.5,611.8 972.5,612.0 973.0,612.2 973.5,612.9 974.5,613.5 975.5,613.1 976.5,612.4 977.5,612.9 978.5,613.6 979.5,614.3 980.5,614.9 981.5,614.8 982.0,614.3 982.5,614.7 983.5,615.4 984.5,615.8 985.5,616.1 986.5,616.2 987.5,616.4 988.0,616.3 988.5,616.6 989.5,617.5 990.5,618.0 991.5,617.7 992.5,617.7 993.5,618.4 994.3,619.0 994.5,619.2 995.5,619.4 996.5,619.9 997.5,620.9 998.5,621.6 999.5,621.9 1000.5,622.3 1001.5,623.0 1002.5,623.5 1003.5,623.8 1004.5,623.6 1004.6,623.4 1005.5,623.8 1006.5,624.4 1007.5,624.8 1008.5,624.7 1009.5,624.7 1010.5,625.1 1011.5,625.2 1012.0,624.8 1012.5,624.6 1013.5,624.6 1014.5,624.4 1015.5,624.4 1016.5,624.4 1017.5,623.9 1018.5,623.7 1019.5,623.8 1020.0,623.9 1020.5,624.3 1021.5,624.4 1022.5,624.1 1023.5,624.0 1024.5,623.7 1025.5,623.5 1026.0,623.8 1026.5,623.7 1027.5,621.7 1028.3,619.6 1028.5,619.3 1029.5,616.6 1030.0,615.1 1030.5,614.4 1031.5,613.2 1032.2,612.6 1032.5,613.2 1033.5,615.0 1034.0,615.6 1034.5,616.4 1035.5,619.3 1036.0,620.5 1036.5,621.0 1037.5,621.3 1038.5,621.6 1039.4,621.9 1039.5,622.0 1040.5,621.5 1041.5,620.5 1042.0,620.0 1042.5,619.5 1043.5,618.1 1044.5,616.8 1045.5,615.6 1046.5,614.5 1047.0,614.0 1047.5,613.5 1048.5,612.6 1049.3,611.5 1049.5,611.1 1050.5,607.4 1050.8,606.0 1051.5,601.7 1051.9,599.0 1052.5,595.3 1053.5,588.0 1054.5,574.3 1055.1,561.0 1055.5,543.1 1055.7,534.0 1056.5,510.0 1057.5,494.9 1057.8,493.3 1058.5,498.2 1059.2,510.0 1059.5,517.2 1060.0,534.0 1060.5,557.7 1060.6,561.0 1061.5,579.4 1062.2,588.0 1062.5,590.6 1063.5,596.9 1063.8,599.0 1064.5,605.0 1065.0,609.0 1065.5,612.3 1066.5,617.7 1066.7,618.5 1067.5,621.1 1068.5,623.6 1069.0,624.5 1069.5,625.2 1070.5,626.4 1071.5,627.3 1072.5,627.8 1073.5,628.0 1074.5,628.2 1075.5,628.3 1076.0,628.3 1076.5,628.2 1077.5,627.6 1078.5,626.6 1079.0,626.0 1079.5,625.2 1080.5,622.9 1081.4,620.5 1081.5,620.2 1082.5,616.7 1083.5,613.3 1083.8,612.5 1084.5,610.9 1085.5,608.8 1086.3,608.2 1086.5,608.2 1087.5,609.5 1088.5,611.8 1088.8,612.5 1089.5,614.8 1090.5,618.9 1091.0,620.5 1091.5,621.7 1092.5,623.9 1093.5,625.6 1093.8,626.0 1094.5,627.0 1095.5,628.2 1096.5,629.0 1096.8,629.1 1097.5,629.3 1098.5,629.5 1099.5,629.6 1100.5,629.3 1101.5,629.5 1102.5,630.2 1103.5,630.4 1104.0,630.1 1104.5,630.0 1105.5,629.8 1106.5,629.5 1107.5,629.5 1108.5,629.5 1109.5,629.8 1110.5,630.2 1111.5,630.6 1112.5,630.6 1113.5,630.3 1114.5,630.3 1115.3,630.4 1115.5,630.0 1116.5,629.3 1117.5,629.6 1118.5,630.1 1119.5,629.9 1120.5,630.1 1121.5,630.0 1122.5,629.5 1123.5,629.6 1124.5,629.9 1125.5,629.6 1126.5,629.4 1127.5,629.5 1128.5,629.6 1129.5,629.8 1130.0,629.7 1130.5,629.5 1131.5,629.4 1132.5,629.2 1133.5,628.9 1134.5,628.8 1135.5,629.2 1136.5,629.5 1137.5,629.4 1138.5,629.1 1139.5,628.9 1140.5,629.0 1141.5,629.0 1142.5,629.1 1143.5,629.4 1144.5,629.6 1145.5,629.8 1146.0,629.6 1146.5,629.2 1147.5,629.2 1148.5,629.3 1149.5,629.3 1150.5,629.3 1151.5,629.0 1152.5,628.8 1153.5,628.7 1154.5,628.6 1155.5,628.9 1156.5,629.2 1157.5,629.3 1158.5,629.2 1159.5,629.2 1160.5,629.1 1161.5,628.7 1162.5,628.8 1163.5,629.2 1164.5,629.5 1165.5,629.7 1166.0,629.5 1166.5,629.5 1167.5,629.4 1168.5,629.1 1169.5,628.8 1170.5,628.9 1171.5,629.6 1172.5,629.8 1173.5,629.1 1174.5,628.6 1175.5,628.3 1176.5,628.5 1177.5,629.0 1178.5,628.9 1179.5,628.6 1180.5,628.7 1181.5,628.9 1182.5,629.2 1183.5,629.3 1184.5,629.1 1185.5,629.0 1186.5,628.8 1187.0,628.5 1187.5,628.7 1188.5,629.0 1189.5,628.7 1190.5,628.2 1191.5,628.2 1192.5,628.0 1193.0,628.1 1193.5,627.9 1194.5,627.0 1195.5,626.6 1196.5,626.4 1197.3,625.7 1197.5,625.6 1198.5,625.1 1199.5,624.3 1200.5,623.3 1201.5,622.4 1202.5,621.5 1203.5,621.0 1204.5,620.4 1205.5,619.9 1206.5,620.2 1207.5,620.9 1208.5,621.3 1209.5,621.7 1210.5,621.9 1211.5,622.4 1212.5,623.1 1213.5,623.7 1213.7,623.7 1214.5,623.5 1215.5,623.6 1216.5,623.9 1217.5,624.2 1218.0,624.4 1218.5,624.2 1219.5,624.2 1220.5,624.1 1221.5,624.0 1222.5,624.2 1222.9,624.1 1223.5,623.9 1224.5,622.9 1225.5,621.6 1226.5,620.1 1227.5,618.4 1228.5,617.0 1229.5,616.1 1230.1,615.6 1230.5,615.3 1231.5,615.4 1232.5,615.1 1233.5,614.3 1234.5,614.2 1235.5,614.2 1236.5,613.8 1237.5,613.7 1238.0,614.0 1238.5,614.0 1239.5,614.0 1240.5,613.8 1241.5,613.4 1242.5,613.6 1243.5,613.8 1244.5,613.2 1245.5,613.0 1246.5,613.2 1247.5,613.4 1248.5,614.0 1249.5,614.4 1250.5,614.4 1251.5,614.5 1252.5,615.5 1253.5,616.3 1254.5,616.7 1255.5,617.5 1256.5,618.1 1256.7,618.4 1257.5,618.9 1258.5,618.9 1259.5,619.1 1260.5,619.5 1261.5,619.8 1262.5,620.2 1263.5,620.7 1264.5,621.4 1265.5,622.3 1266.5,622.6 1267.5,622.7 1268.5,622.8 1269.0,622.5 1269.5,622.6 1270.5,623.2 1271.5,623.7 1272.5,623.8 1273.5,623.9 1274.5,624.1 1275.5,624.2 1276.5,624.1 1277.5,623.5 1278.5,623.1 1279.0,623.5 1279.5,624.0 1280.5,624.1 1281.5,624.1 1282.5,624.1 1283.5,624.0 1284.5,623.8 1285.5,623.6 1286.5,623.5 1287.5,623.3 1288.5,623.0 1289.5,623.0 1290.0,623.1 1290.5,623.2 1291.5,623.4 1292.5,623.2 1293.5,623.2 1294.5,623.3 1295.5,623.3 1296.5,623.6 1297.5,623.7 1298.5,623.7 1299.5,623.3 1300.5,622.8 1301.5,622.9 1302.5,623.5 1303.5,623.9 1304.5,623.7 1305.5,623.4 1306.5,623.7 1307.5,624.3 1308.5,623.9 1309.5,623.2 1310.0,623.0 1310.5,623.1 1311.5,624.0 1312.5,624.7 1313.5,624.4 1314.5,623.9 1315.5,623.4 1316.5,623.4 1317.5,623.7 1318.5,623.7 1319.5,623.6 1320.5,623.6 1321.5,623.9 1322.5,624.4 1323.5,624.6 1324.5,624.3 1325.5,623.9 1326.5,623.5 1327.5,623.4 1328.5,623.7 1329.5,624.2 1330.5,624.4 1331.5,624.4 1332.5,624.3 1333.0,623.8 1333.5,623.6 1334.5,623.6 1335.5,623.9 1336.5,624.4 1337.5,624.3 1338.5,624.2 1339.5,624.4 1340.5,624.2 1341.5,624.0 1342.5,624.0 1343.5,623.9 1344.5,623.9 1345.5,624.1 1346.5,624.1 1347.5,623.3 1348.5,623.1 1349.5,623.8 1350.5,624.1 1351.5,623.9 1352.5,623.9 1353.5,624.3 1354.5,624.2 1355.0,623.7 1355.5,623.6 1356.5,623.4 1357.5,623.1 1358.5,623.4 1359.5,623.6 1360.5,623.2 1361.5,623.3 1362.5,623.9 1363.5,623.9 1364.5,623.6 1365.5,623.3 1366.5,623.4 1367.5,623.7 1368.5,623.8 1369.5,624.0 1370.5,624.2 1371.5,623.8 1372.5,623.2 1373.5,623.3 1374.5,623.8 1375.5,624.0 1376.1,623.7 1376.5,623.5 1377.5,623.6 1378.5,623.5 1379.5,623.5 1380.5,623.9 1381.5,624.3 1382.5,624.3 1383.5,624.2 1384.5,624.1 1385.5,624.2 1386.5,624.6 1387.5,624.9 1388.5,624.6 1389.5,624.6 1390.0,624.7 1390.5,624.1 1391.5,624.0 1392.5,624.6 1393.5,624.9 1394.5,624.8 1395.5,625.0 1396.5,625.2 1397.5,625.3 1398.5,625.8 1399.5,626.1 1400.5,625.9 1401.5,625.3 1402.5,625.3 1403.5,625.9 1404.5,625.9 1404.8,625.5 1405.5,626.1 1406.5,626.7 1407.5,626.4 1408.5,626.6 1409.5,627.3 1410.5,627.5 1411.5,627.5 1412.5,627.4 1413.5,627.0 1414.5,627.3 1415.5,628.1 1416.0,628.5 1416.5,628.1 1417.5,627.7 1418.5,627.7 1419.5,628.0 1420.5,628.5 1421.5,628.8 1422.5,629.2 1423.5,629.7 1424.5,629.7 1425.5,629.7 1426.5,630.0 1427.5,629.8 1427.8,629.3 1428.5,629.1 1429.5,629.5 1430.5,629.8 1431.5,630.0 1432.5,629.6 1433.5,629.3 1434.5,629.9 1435.5,630.4 1436.5,630.3 1437.5,630.3 1438.0,630.6 1438.5,630.8 1439.5,630.6 1440.5,630.2 1441.5,629.9 1442.5,630.0 1443.5,630.7 1444.5,630.7 1445.5,630.3 1446.5,630.4 1447.5,630.5 1447.9,630.2 1448.5,630.3 1449.5,630.3 1450.5,630.0 1451.5,629.9 1452.5,630.0 1453.5,630.0 1454.5,629.9 1455.5,629.9 1456.5,629.7 1457.5,629.4 1458.5,629.3 1459.5,629.4 1460.5,629.4 1461.0,628.9 1461.5,628.9 1462.5,629.1 1463.5,628.8 1464.5,628.5 1465.5,628.5 1466.5,628.4 1467.5,628.1 1468.5,628.0 1469.5,627.9 1470.5,627.6 1471.5,627.6 1472.5,627.6 1473.5,627.6 1473.7,627.8 1474.5,627.4 1475.5,626.8 1476.5,626.5 1477.5,626.0 1478.5,626.1 1479.5,626.4 1480.5,626.2 1481.5,626.0 1482.0,625.6 1482.5,625.2 1483.5,625.0 1484.5,625.0 1485.5,624.9 1486.5,624.8 1487.5,624.7 1488.5,624.5 1489.5,624.3 1490.5,624.1 1490.9,624.0 1491.5,623.6 1492.5,623.7 1493.5,624.9 1494.5,626.0 1495.5,626.7 1496.5,627.1 1497.0,626.8 1497.5,626.4 1498.5,626.9 1499.5,627.9 1500.5,628.5 1501.5,628.9 1502.4,629.1 1502.5,628.9 1503.5,629.2 1504.5,629.3 1505.5,629.6 1506.5,629.9 1507.5,630.0 1508.5,630.3 1509.5,630.3 1510.5,630.3 1511.5,630.4 1512.5,630.1 1513.5,630.1 1514.5,630.1 1515.5,629.9 1516.5,630.5 1517.0,630.9 1517.5,630.6 1518.5,630.6 1519.5,630.6 1520.5,630.8 1521.5,630.9 1522.5,630.8 1523.5,630.8 1524.5,631.1 1525.5,631.4 1526.5,631.2 1527.5,630.5 1528.5,630.3 1529.5,630.8 1530.5,631.0 1531.5,631.0 1532.5,631.3 1533.5,631.6 1534.0,631.7 1534.5,631.7 1535.5,631.3 1536.5,631.5 1537.5,632.0 1538.5,631.7 1539.5,631.2 1540.5,631.5 1541.5,632.1 1542.5,632.3 1543.5,632.1 1544.5,631.8 1545.5,631.3 1546.5,631.5 1547.5,631.7 1548.5,631.4 1549.5,631.1 1550.5,631.2 1551.5,631.7 1552.5,631.8 1553.5,631.5 1554.5,631.1 1555.0,631.3 1555.5,631.9 1556.5,631.7 1557.5,631.5 1558.5,631.8 1559.5,631.6 1560.5,631.0 1561.5,631.1 1562.5,631.6 1563.5,631.8 1564.5,631.8 1565.5,631.6 1566.5,631.6 1567.5,631.7 1568.5,631.5 1569.5,631.4 1570.5,631.5 1571.5,631.7 1572.5,631.7 1573.5,631.6 1574.5,631.6 1575.5,631.8 1576.5,631.9 1577.0,631.8 1577.5,631.6 1578.5,631.7 1579.5,631.6 1580.5,631.6 1581.5,631.7 1582.5,632.0 1583.5,631.9 1584.5,631.5 1585.5,631.7 1586.5,631.8 1587.5,631.7 1588.5,631.7 1589.5,631.7 1590.5,631.5 1591.5,631.5 1592.0,631.8 1592.5,632.1 1593.5,631.9 1594.5,631.8 1595.5,632.4 1596.5,632.4 1597.5,631.8 1598.5,631.4 1599.5,631.5 1600.5,631.8 1601.5,631.8 1602.5,631.1 1603.5,630.8 1604.5,631.2 1605.5,631.4 1605.7,631.4 1606.5,631.2 1607.5,630.7 1608.5,630.5 1609.5,630.2 1610.5,630.0 1611.0,629.9 1611.5,629.2 1612.5,628.2 1613.5,627.5 1614.5,626.6 1615.5,625.3 1616.5,624.2 1617.2,624.2 1617.5,624.7 1618.5,625.3 1619.5,626.0 1620.5,626.7 1621.5,627.3 1622.5,628.1 1623.5,628.8 1624.4,629.0 1624.5,629.1 1625.5,629.1 1626.5,628.5 1627.5,627.3 1628.0,626.6 1628.5,625.9 1629.5,624.4 1630.5,623.1 1631.0,622.1 1631.5,621.2 1632.5,620.0 1633.5,618.7 1634.0,618.3 1634.5,618.2 1635.5,617.6 1636.5,616.8 1637.3,616.4 1637.5,616.7 1638.5,617.0 1639.5,617.2 1640.5,618.3 1641.5,620.4 1642.5,622.4 1643.5,624.1 1644.5,625.9 1645.5,627.4 1646.5,628.8 1647.3,630.1 1647.5,630.6 1648.5,631.3 1649.5,632.2 1650.5,632.6 1651.5,632.3 1652.5,632.5 1653.0,633.0 1653.5,633.1 1654.5,633.3 1655.5,633.6 1656.5,633.7 1657.5,633.5 1658.5,633.5 1659.5,633.6 1660.5,633.6 1661.5,633.3 1662.5,633.3 1663.1,633.6 1663.5,634.0 1664.5,634.6 1665.5,634.8 1666.5,634.6 1667.5,634.4 1668.5,634.2 1669.5,634.1 1670.5,634.3 1671.5,634.5 1672.5,634.7 1673.5,635.0 1674.5,635.2 1675.5,634.7 1676.5,634.3 1677.5,634.5 1678.5,634.7 1679.5,635.0 1680.5,635.2 1681.5,634.9 1682.5,635.0 1683.5,635.1 1684.5,634.9 1685.5,635.1 1686.5,635.5 1687.5,635.6 1688.5,635.7 1689.5,635.6 1690.0,635.3 1690.5,634.6 1691.5,634.3 1692.5,634.9 1693.5,635.7 1694.5,635.3 1695.5,634.8 1696.5,635.1 1697.5,635.3 1698.5,635.1 1699.5,635.3 1700.5,635.5 1701.5,635.7 1702.5,636.2 1703.5,636.3 1704.5,635.8 1705.5,635.4 1706.5,635.5 1707.5,635.9 1708.5,636.1 1709.5,636.1 1710.5,635.8 1711.5,635.4 1712.5,635.4 1713.5,635.3 1714.5,635.5 1715.5,636.1 1716.5,636.5 1717.5,636.6 1718.5,636.4 1719.5,636.2 1720.5,636.2 1721.5,636.3 1722.5,636.7 1723.5,637.2 1724.5,637.2 1725.5,637.2 1726.3,637.4 1726.5,637.6 1727.5,637.4 1728.5,637.2 1729.5,637.3 1730.5,637.6 1731.5,638.1 1732.5,637.9 1733.5,637.6 1734.5,637.9 1735.5,638.3 1736.5,638.2 1737.5,638.0 1738.5,638.1 1739.5,638.3 1740.0,638.5 1740.5,638.7 1741.5,638.8 1742.5,638.6 1743.5,638.5 1744.5,638.1 1745.5,637.5 1746.5,637.3 1747.5,637.2 1748.5,637.6 1749.5,638.1 1750.5,638.2 1751.5,638.1 1752.5,638.0 1753.5,637.9 1754.5,638.0 1755.5,638.2 1756.5,638.2 1757.5,638.0 1758.5,638.4 1759.5,638.8 1760.5,638.7 1761.5,638.3 1762.5,637.9 1763.5,637.9 1764.5,637.9 1765.5,637.9 1766.5,638.3 1767.5,638.4 1768.5,638.2 1769.5,638.1 1770.5,638.0 1771.5,638.2 1772.5,638.6 1773.5,638.8 1774.5,638.6 1775.5,638.2 1776.5,638.1 1777.5,638.3 1778.5,638.0 1779.5,638.0 1780.0,638.5 1780.5,638.4 1781.5,637.9 1782.5,637.9 1783.5,638.1 1784.5,638.0 1785.5,638.0 1786.5,638.2 1787.5,638.1 1788.5,637.7 1789.5,637.5 1790.5,637.6 1791.5,637.7 1792.5,638.2 1793.5,638.4 1794.5,638.1 1795.5,638.2 1796.5,638.2 1797.5,638.2 1798.5,638.3 1799.5,638.1 1800.5,637.9 1801.5,638.1 1802.5,638.6 1803.5,638.5 1804.5,638.3 1805.5,638.3 1806.5,638.1 1807.5,638.1 1808.5,638.5 1809.5,638.7 1810.5,638.3 1811.5,637.9 1812.5,638.0 1813.5,638.3 1814.5,638.2 1815.5,637.9 1816.5,637.8 1817.5,637.9 1818.5,637.8 1819.5,637.8 1820.5,638.2 1821.5,638.5 1822.5,638.5 1823.5,638.4 1824.5,638.2 1825.5,638.3 1826.5,638.2 1827.5,637.9 1828.5,638.2"/>
<path class="c" stroke-width="5.3" d="M139.0,953.3 140.0,953.3 141.0,953.3 142.0,953.3 143.0,953.2 144.0,953.2 145.0,953.2 146.0,953.1 147.0,953.1 148.0,953.0 149.0,952.9 150.0,952.8 151.0,952.7 152.0,952.5 153.0,952.3 154.0,951.7 155.0,950.3 156.0,948.5 157.0,944.8 157.8,940.4 158.0,939.0 159.0,930.1 159.3,928.0 160.0,923.8 160.7,921.7 161.0,922.2 162.0,927.4 162.1,928.0 163.0,934.7 163.9,941.0 164.0,941.5 165.0,945.5 165.8,947.5 166.0,947.8 167.0,949.2 168.0,950.1 168.7,950.4 169.0,950.5 170.0,950.7 171.0,950.8 172.0,950.9 173.0,951.0 174.0,951.1 175.0,951.2 176.0,951.2 177.0,951.2 178.0,951.2 179.0,951.2 180.0,951.3 181.0,951.3 182.0,951.3 183.0,951.3 184.0,951.3 185.0,951.3 186.0,951.3 187.0,951.3 187.4,951.3 188.0,951.3 189.0,951.3 190.0,951.3 191.0,951.3 192.0,951.2 193.0,951.2 194.0,951.2 195.0,951.1 196.0,951.1 197.0,951.0 198.0,951.0 199.0,950.9 200.0,950.9 201.0,950.8 202.0,950.8 203.0,950.7 204.0,950.6 205.0,950.6 206.0,950.6 207.0,950.5 208.0,950.5 209.0,950.4 210.0,950.4 211.0,950.3 212.0,950.3 213.0,950.2 214.0,950.2 215.0,950.1 216.0,950.0 217.0,950.0 218.0,949.9 219.0,949.8 220.0,949.8 221.0,949.7 221.8,949.6 222.0,949.6 223.0,949.5 224.0,949.4 225.0,949.2 226.0,949.1 227.0,948.9 228.0,948.8 229.0,948.6 230.0,948.4 231.0,948.2 232.0,948.0 233.0,947.8 234.0,947.5 235.0,947.1 236.0,946.8 237.0,946.5 238.0,946.2 239.0,946.0 240.0,945.8 241.0,945.6 242.0,945.5 243.0,945.3 244.0,945.2 244.8,945.2 245.0,945.2 246.0,945.3 247.0,945.6 248.0,946.0 249.0,946.4 250.0,946.8 250.5,947.0 251.0,947.2 252.0,947.7 253.0,948.3 254.0,948.8 255.0,949.2 256.0,949.5 256.3,949.6 257.0,949.7 258.0,949.8 259.0,949.9 260.0,950.0 261.0,950.1 262.0,950.2 263.0,950.2 264.0,950.3 265.0,950.3 266.0,950.3 267.0,950.3 268.0,950.3 269.0,950.2 270.0,950.2 271.0,950.2 272.0,950.1 273.0,950.0 274.0,950.0 275.0,949.9 276.0,949.8 277.0,949.7 278.0,949.5 279.0,949.2 280.0,948.9 281.0,948.5 281.5,948.3 282.0,948.1 283.0,947.5 284.0,946.9 285.0,946.1 286.0,945.1 286.4,944.7 287.0,943.9 288.0,942.2 289.0,940.2 290.0,938.5 291.0,936.8 292.0,935.3 293.0,934.6 294.0,935.3 295.0,936.8 296.0,938.4 296.3,938.8 297.0,939.6 298.0,940.8 299.0,941.9 300.0,942.8 300.8,943.2 301.0,943.3 302.0,943.6 303.0,943.8 304.0,944.1 305.0,944.2 306.0,944.4 307.0,944.5 308.0,944.6 309.0,944.7 310.0,944.8 311.0,944.9 312.0,944.9 313.0,945.0 314.0,945.1 315.0,945.1 316.0,945.2 316.6,945.2 317.0,945.2 318.0,945.3 319.0,945.3 320.0,945.3 321.0,945.4 322.0,945.4 323.0,945.4 324.0,945.4 325.0,945.5 326.0,945.5 327.0,945.5 328.0,945.5 329.0,945.6 330.0,945.6 331.0,945.6 332.0,945.7 333.0,945.7 334.0,945.7 335.0,945.8 336.0,945.8 337.0,945.8 338.0,945.9 339.0,945.9 340.0,946.0 341.0,946.0 342.0,946.1 342.4,946.1 343.0,946.1 344.0,946.3 345.0,946.4 346.0,946.6 347.0,946.7 348.0,946.9 349.0,947.1 350.0,947.3 351.0,947.4 352.0,947.5 353.0,947.7 354.0,947.8 355.0,948.0 356.0,948.1 357.0,948.3 358.0,948.3 359.0,948.4 359.6,948.4 360.0,948.4 361.0,948.4 362.0,948.4 363.0,948.3 364.0,948.3 365.0,948.3 366.0,948.2 367.0,948.2 368.0,948.1 369.0,948.1 370.0,948.0 371.0,948.0 372.0,947.9 373.0,947.9 374.0,947.8 375.0,947.7 376.0,947.7 377.0,947.6 378.0,947.6 379.0,947.5 380.0,947.4 381.0,947.3 382.0,947.3 383.0,947.2 384.0,947.1 385.0,947.0 386.0,946.9 387.0,946.8 388.0,946.7 388.3,946.7 389.0,946.6 390.0,946.5 391.0,946.4 392.0,946.3 393.0,946.1 394.0,946.0 395.0,945.8 396.0,945.7 397.0,945.5 398.0,945.3 399.0,945.2 400.0,945.0 401.0,944.8 402.0,944.6 403.0,944.4 404.0,944.2 405.0,943.9 405.5,943.8 406.0,943.7 407.0,943.3 408.0,943.0 409.0,942.6 410.0,942.1 411.0,941.7 411.5,941.5 412.0,941.3 413.0,940.8 414.0,940.3 415.0,939.8 416.0,939.3 417.0,938.9 418.0,938.5 419.0,938.2 420.0,937.9 421.0,937.6 422.0,937.4 423.0,937.3 424.0,937.1 425.0,937.0 426.0,936.9 427.0,936.9 427.1,936.9 428.0,936.9 429.0,937.1 430.0,937.2 431.0,937.5 432.0,937.7 433.0,938.0 434.0,938.3 435.0,938.7 436.0,939.2 437.0,939.6 438.0,940.1 438.6,940.4 439.0,940.6 440.0,941.1 441.0,941.5 442.0,942.0 443.0,942.5 444.0,943.0 445.0,943.5 446.0,944.0 447.0,944.5 448.0,945.1 449.0,945.6 450.0,946.1 451.0,946.5 451.5,946.7 452.0,946.9 453.0,947.3 454.0,947.6 455.0,947.9 456.0,948.3 457.0,948.6 458.0,948.8 459.0,949.1 460.0,949.3 461.0,949.5 462.0,949.7 463.0,949.9 464.0,950.1 465.0,950.3 466.0,950.5 467.0,950.6 468.0,950.7 468.7,950.7 469.0,950.7 470.0,950.7 471.0,950.7 472.0,950.7 473.0,950.7 474.0,950.8 475.0,950.8 476.0,950.8 477.0,950.8 478.0,950.8 479.0,950.8 480.0,950.8 481.0,950.8 482.0,950.8 483.0,950.8 484.0,950.8 485.0,950.8 486.0,950.8 487.0,950.8 488.0,950.8 489.0,950.8 490.0,950.7 491.0,950.7 492.0,950.7 493.0,950.7 494.0,950.7 495.0,950.6 496.0,950.6 497.0,950.6 498.0,950.5 499.0,950.5 500.0,950.5 501.0,950.5 502.0,950.4 503.0,950.4 503.1,950.4 504.0,950.4 505.0,950.4 506.0,950.3 507.0,950.3 508.0,950.3 509.0,950.3 510.0,950.2 511.0,950.2 512.0,950.2 513.0,950.2 514.0,950.1 515.0,950.1 516.0,950.1 517.0,950.1 518.0,950.0 519.0,950.0 520.0,950.0 521.0,949.9 522.0,949.9 523.0,949.9 524.0,949.8 525.0,949.8 526.0,949.8 527.0,949.7 528.0,949.7 529.0,949.7 530.0,949.6 531.0,949.6 532.0,949.5 533.0,949.5 534.0,949.4 535.0,949.4 536.0,949.3 537.0,949.3 538.0,949.2 539.0,949.1 540.0,949.0 540.4,949.0 541.0,948.9 542.0,948.8 543.0,948.6 544.0,948.4 545.0,948.2 546.0,948.0 547.0,947.7 548.0,947.4 549.0,947.1 550.0,946.7 551.0,946.2 552.0,945.6 553.0,945.0 553.4,944.7 554.0,944.2 555.0,943.2 556.0,941.9 557.0,940.5 558.0,938.9 559.0,936.9 560.0,934.5 560.5,933.2 561.0,931.6 562.0,927.4 563.0,922.8 564.0,919.0 565.0,915.7 566.0,912.5 567.0,910.3 567.7,909.8 568.0,909.9 569.0,911.5 570.0,914.4 571.0,917.7 571.4,919.0 572.0,921.1 573.0,925.5 574.0,930.0 574.9,933.2 575.0,933.5 576.0,936.0 577.0,938.2 578.0,940.1 578.5,941.0 579.0,941.9 580.0,943.5 581.0,944.9 582.0,946.0 582.1,946.1 583.0,946.8 584.0,947.5 585.0,948.1 586.0,948.6 587.0,949.0 588.0,949.3 589.0,949.6 590.0,949.8 591.0,950.1 592.0,950.3 593.0,950.4 594.0,950.6 595.0,950.7 596.0,950.8 597.0,950.9 598.0,951.0 599.0,951.1 600.0,951.2 601.0,951.2 602.0,951.3 603.0,951.4 604.0,951.4 605.0,951.5 606.0,951.5 607.0,951.5 608.0,951.6 609.0,951.6 610.0,951.6 611.0,951.7 612.0,951.7 613.0,951.7 614.0,951.8 615.0,951.8 616.0,951.8 617.0,951.8 617.9,951.8 618.0,951.8 619.0,951.8 620.0,951.8 621.0,951.8 622.0,951.8 623.0,951.8 624.0,951.8 625.0,951.8 626.0,951.8 627.0,951.8 628.0,951.8 629.0,951.8 630.0,951.8 631.0,951.8 632.0,951.8 633.0,951.8 634.0,951.8 635.0,951.8 636.0,951.8 637.0,951.8 638.0,951.8 639.0,951.8 640.0,951.8 641.0,951.8 642.0,951.8 643.0,951.8 644.0,951.8 645.0,951.8 646.0,951.8 647.0,951.8 648.0,951.8 649.0,951.8 650.0,951.8 651.0,951.8 652.0,951.8 653.0,951.8 654.0,951.8 655.0,951.8 656.0,951.8 657.0,951.8 658.0,951.8 659.0,951.8 660.0,951.8 661.0,951.8 662.0,951.8 663.0,951.8 664.0,951.8 665.0,951.8 666.0,951.8 667.0,951.8 668.0,951.8 669.0,951.8 670.0,951.8 671.0,951.8 672.0,951.7 673.0,951.7 674.0,951.7 675.0,951.7 676.0,951.7 677.0,951.7 678.0,951.7 679.0,951.7 680.0,951.7 681.0,951.7 682.0,951.7 683.0,951.7 684.0,951.7 685.0,951.7 686.0,951.6 687.0,951.6 688.0,951.6 689.0,951.6 689.7,951.6 690.0,951.6 691.0,951.6 692.0,951.5 693.0,951.5 694.0,951.4 695.0,951.3 696.0,951.2 697.0,951.1 697.5,951.0 698.0,950.9 699.0,950.7 700.0,950.4 701.0,950.0 702.0,949.5 702.5,949.3 703.0,949.0 704.0,948.3 705.0,947.3 706.0,946.2 706.7,945.3 707.0,944.9 708.0,942.9 709.0,940.5 709.2,940.0 710.0,937.8 711.0,934.7 711.3,933.8 712.0,931.4 713.0,928.0 713.2,927.5 714.0,925.3 715.0,923.8 716.0,925.3 716.8,927.5 717.0,928.0 718.0,931.4 718.7,933.8 719.0,934.8 720.0,938.1 720.8,940.5 721.0,941.1 722.0,943.8 723.0,946.0 723.2,946.3 724.0,947.3 725.0,948.3 726.0,949.2 727.0,949.8 727.5,950.0 728.0,950.2 729.0,950.6 730.0,950.9 731.0,951.1 732.0,951.4 733.0,951.5 734.0,951.7 734.3,951.7 735.0,951.8 736.0,951.8 737.0,951.9 738.0,952.0 739.0,952.1 740.0,952.1 741.0,952.2 742.0,952.2 743.0,952.2 744.0,952.3 745.0,952.3 746.0,952.3 747.0,952.4 748.0,952.4 749.0,952.4 750.0,952.4 751.0,952.4 752.0,952.5 753.0,952.5 754.0,952.5 755.0,952.5 756.0,952.5 757.0,952.5 758.0,952.6 759.0,952.6 760.0,952.6 761.0,952.6 761.8,952.6 762.0,952.6 763.0,952.6 764.0,952.6 765.0,952.6 766.0,952.6 767.0,952.6 768.0,952.7 769.0,952.7 770.0,952.7 771.0,952.7 772.0,952.7 773.0,952.7 774.0,952.7 775.0,952.7 776.0,952.7 777.0,952.7 778.0,952.7 779.0,952.7 780.0,952.7 781.0,952.7 782.0,952.7 783.0,952.8 784.0,952.8 785.0,952.8 786.0,952.8 787.0,952.8 788.0,952.8 789.0,952.8 790.0,952.8 791.0,952.8 792.0,952.8 793.0,952.8 794.0,952.8 795.0,952.8 796.0,952.8 797.0,952.8 798.0,952.8 799.0,952.8 800.0,952.8 801.0,952.8 802.0,952.8 803.0,952.8 804.0,952.8 805.0,952.8 806.0,952.8 807.0,952.8 808.0,952.8 809.0,952.8 810.0,952.8 811.0,952.8 812.0,952.8 813.0,952.8 814.0,952.8 815.0,952.8 816.0,952.8 817.0,952.8 818.0,952.8 819.0,952.8 820.0,952.8 821.0,952.8 822.0,952.8 823.0,952.8 824.0,952.8 825.0,952.8 826.0,952.8 827.0,952.8 828.0,952.8 829.0,952.8 830.0,952.8 831.0,952.8 832.0,952.8 833.0,952.8 834.0,952.8 835.0,952.8 836.0,952.8 837.0,952.8 838.0,952.8 839.0,952.8 840.0,952.8 841.0,952.8 842.0,952.8 843.0,952.8 844.0,952.8 845.0,952.8 846.0,952.8 847.0,952.8 848.0,952.8 849.0,952.8 850.0,952.8 851.0,952.8 852.0,952.8 853.0,952.8 854.0,952.8 855.0,952.8 856.0,952.8 857.0,952.8 858.0,952.8 859.0,952.8 860.0,952.8 861.0,952.8 862.0,952.8 863.0,952.8 864.0,952.8 865.0,952.8 866.0,952.8 867.0,952.8 868.0,952.8 869.0,952.8 870.0,952.8 871.0,952.7 872.0,952.7 873.0,952.7 874.0,952.7 875.0,952.7 876.0,952.7 877.0,952.7 878.0,952.7 879.0,952.7 880.0,952.7 881.0,952.7 882.0,952.7 883.0,952.7 884.0,952.7 885.0,952.7 886.0,952.7 887.0,952.7 888.0,952.7 889.0,952.7 890.0,952.7 891.0,952.6 892.0,952.6 893.0,952.6 894.0,952.6 895.0,952.6 896.0,952.6 897.0,952.6 898.0,952.6 899.0,952.6 900.0,952.6 901.0,952.6 902.0,952.6 903.0,952.6 904.0,952.6 905.0,952.6 906.0,952.6 907.0,952.6 908.0,952.6 909.0,952.6 910.0,952.6 911.0,952.5 912.0,952.5 913.0,952.5 914.0,952.5 915.0,952.5 916.0,952.5 917.0,952.5 918.0,952.5 919.0,952.5 920.0,952.5 921.0,952.5 922.0,952.5 923.0,952.5 924.0,952.5 925.0,952.5 926.0,952.4 927.0,952.4 928.0,952.4 929.0,952.4 930.0,952.4 931.0,952.4 932.0,952.4 933.0,952.4 934.0,952.3 935.0,952.3 936.0,952.3 937.0,952.3 938.0,952.2 939.0,952.2 940.0,952.1 940.8,952.1 941.0,952.1 942.0,952.0 943.0,951.9 944.0,951.8 945.0,951.7 946.0,951.5 947.0,951.3 948.0,951.0 949.0,950.6 950.0,950.0 951.0,949.2 951.2,949.0 952.0,947.1 953.0,944.0 954.0,941.7 955.0,940.0 956.0,939.1 956.9,938.8 957.0,938.8 958.0,939.7 958.5,940.5 959.0,941.6 960.0,944.7 960.5,946.0 961.0,947.1 962.0,949.0 962.5,949.5 963.0,949.8 964.0,950.3 964.9,950.5 965.0,950.5 966.0,950.5 967.0,950.3 968.0,950.2 969.0,950.0 970.0,949.8 971.0,949.4 972.0,949.0 973.0,948.6 974.0,948.1 975.0,947.4 976.0,946.6 976.3,946.3 977.0,945.6 978.0,944.2 979.0,942.4 979.2,942.0 980.0,940.0 981.0,936.4 982.0,931.5 983.0,923.4 984.0,911.4 984.1,910.0 985.0,895.1 985.6,880.0 986.0,864.3 986.2,850.0 986.5,780.0 986.9,710.0 987.0,698.2 987.4,667.5 987.9,710.0 988.0,723.7 988.3,780.0 988.6,850.0 989.0,873.5 989.2,880.0 990.0,899.1 990.7,910.0 991.0,914.0 992.0,925.4 992.8,931.5 993.0,932.6 994.0,937.1 995.0,940.4 995.6,942.0 996.0,942.9 997.0,945.0 998.0,946.5 998.6,947.3 999.0,947.7 1000.0,948.7 1001.0,949.5 1001.6,949.8 1002.0,950.0 1003.0,950.4 1004.0,950.8 1005.0,951.1 1006.0,951.4 1007.0,951.6 1008.0,951.8 1009.0,952.0 1010.0,952.1 1011.0,952.3 1012.0,952.4 1013.0,952.5 1014.0,952.6 1014.3,952.6 1015.0,952.6 1016.0,952.7 1017.0,952.7 1018.0,952.8 1019.0,952.8 1020.0,952.8 1021.0,952.8 1022.0,952.9 1023.0,952.9 1024.0,952.9 1025.0,952.9 1026.0,952.9 1027.0,953.0 1028.0,953.0 1029.0,953.0 1030.0,953.0 1031.0,953.0 1032.0,953.0 1033.0,953.0 1034.0,953.0 1035.0,953.1 1036.0,953.1 1037.0,953.1 1038.0,953.1 1039.0,953.1 1040.0,953.1 1041.0,953.1 1042.0,953.1 1043.0,953.1 1044.0,953.1 1045.0,953.1 1046.0,953.1 1047.0,953.1 1048.0,953.1 1049.0,953.2 1050.0,953.2 1051.0,953.2 1052.0,953.2 1053.0,953.2 1054.0,953.2 1055.0,953.2 1056.0,953.2 1057.0,953.2 1058.0,953.2 1059.0,953.2 1060.0,953.2 1061.0,953.2 1062.0,953.2 1063.0,953.2 1064.0,953.2 1065.0,953.2 1066.0,953.2 1067.0,953.2 1068.0,953.2 1069.0,953.2 1070.0,953.2 1071.0,953.2 1072.0,953.2 1073.0,953.2 1074.0,953.2 1075.0,953.2 1076.0,953.2 1077.0,953.2 1078.0,953.2 1079.0,953.2 1080.0,953.3 1081.0,953.3 1082.0,953.3 1083.0,953.3 1084.0,953.3 1085.0,953.3 1086.0,953.3 1087.0,953.3 1088.0,953.3 1089.0,953.3 1090.0,953.3 1091.0,953.3 1092.0,953.3 1093.0,953.3 1094.0,953.3 1095.0,953.3 1096.0,953.3 1097.0,953.3 1098.0,953.3 1099.0,953.3 1100.0,953.3 1101.0,953.3 1102.0,953.3 1103.0,953.3 1104.0,953.3 1105.0,953.3 1106.0,953.3 1107.0,953.3 1108.0,953.3 1109.0,953.3 1110.0,953.3 1111.0,953.3 1112.0,953.3 1113.0,953.3 1114.0,953.3 1115.0,953.3 1116.0,953.3 1117.0,953.3 1118.0,953.3 1119.0,953.3 1120.0,953.3 1121.0,953.3 1122.0,953.3 1123.0,953.3 1124.0,953.3 1125.0,953.3 1126.0,953.3 1127.0,953.3 1128.0,953.3 1129.0,953.3 1130.0,953.3 1131.0,953.3 1132.0,953.3 1133.0,953.3 1134.0,953.3 1135.0,953.3 1136.0,953.3 1137.0,953.3 1138.0,953.3 1139.0,953.3 1140.0,953.3 1141.0,953.3 1142.0,953.3 1143.0,953.3 1144.0,953.4 1145.0,953.4 1146.0,953.4 1147.0,953.4 1148.0,953.4 1149.0,953.4 1150.0,953.4 1151.0,953.4 1152.0,953.4 1153.0,953.4 1154.0,953.4 1155.0,953.4 1156.0,953.4 1157.0,953.4 1158.0,953.4 1159.0,953.4 1160.0,953.4 1161.0,953.4 1162.0,953.4 1163.0,953.4 1164.0,953.4 1165.0,953.4 1166.0,953.4 1167.0,953.4 1168.0,953.4 1169.0,953.4 1170.0,953.4 1171.0,953.4 1172.0,953.4 1173.0,953.4 1174.0,953.4 1175.0,953.4 1176.0,953.4 1177.0,953.4 1178.0,953.4 1179.0,953.4 1180.0,953.4 1181.0,953.4 1182.0,953.4 1183.0,953.4 1184.0,953.4 1185.0,953.4 1186.0,953.4 1187.0,953.4 1188.0,953.4 1189.0,953.4 1190.0,953.4 1191.0,953.4 1192.0,953.4 1193.0,953.4 1194.0,953.4 1195.0,953.4 1196.0,953.4 1197.0,953.4 1198.0,953.4 1199.0,953.4 1200.0,953.4 1201.0,953.4 1202.0,953.4 1203.0,953.4 1204.0,953.4 1205.0,953.4 1206.0,953.4 1207.0,953.4 1208.0,953.4 1209.0,953.4 1210.0,953.4 1211.0,953.4 1212.0,953.4 1213.0,953.4 1214.0,953.4 1215.0,953.4 1216.0,953.4 1217.0,953.4 1218.0,953.4 1219.0,953.4 1220.0,953.4 1221.0,953.4 1222.0,953.4 1223.0,953.4 1224.0,953.4 1225.0,953.4 1226.0,953.4 1227.0,953.4 1228.0,953.4 1229.0,953.4 1230.0,953.4 1231.0,953.4 1232.0,953.4 1233.0,953.4 1234.0,953.4 1235.0,953.4 1236.0,953.4 1237.0,953.4 1238.0,953.4 1239.0,953.4 1240.0,953.4 1241.0,953.4 1242.0,953.4 1243.0,953.4 1244.0,953.4 1245.0,953.4 1246.0,953.4 1247.0,953.4 1248.0,953.4 1249.0,953.4 1250.0,953.4 1251.0,953.4 1252.0,953.4 1253.0,953.4 1254.0,953.4 1255.0,953.4 1256.0,953.4 1257.0,953.4 1258.0,953.4 1259.0,953.4 1260.0,953.4 1261.0,953.4 1262.0,953.4 1263.0,953.4 1264.0,953.4 1265.0,953.4 1266.0,953.4 1267.0,953.4 1268.0,953.4 1269.0,953.4 1270.0,953.4 1271.0,953.4 1272.0,953.4 1273.0,953.4 1274.0,953.4 1275.0,953.4 1276.0,953.4 1277.0,953.4 1278.0,953.4 1279.0,953.4 1280.0,953.4 1281.0,953.4 1282.0,953.4 1283.0,953.4 1284.0,953.4 1285.0,953.4 1286.0,953.4 1287.0,953.4 1288.0,953.4 1289.0,953.4 1290.0,953.4 1291.0,953.4 1292.0,953.4 1293.0,953.4 1294.0,953.4 1295.0,953.4 1296.0,953.4 1297.0,953.4 1298.0,953.4 1299.0,953.4 1300.0,953.4 1301.0,953.4 1302.0,953.4 1303.0,953.4 1304.0,953.4 1305.0,953.4 1306.0,953.4 1307.0,953.3 1308.0,953.3 1309.0,953.3 1310.0,953.3 1311.0,953.3 1312.0,953.3 1313.0,953.2 1314.0,953.2 1315.0,953.2 1316.0,953.2 1317.0,953.1 1318.0,953.1 1319.0,953.1 1320.0,953.1 1321.0,953.0 1322.0,953.0 1323.0,953.0 1324.0,953.0 1325.0,952.9 1326.0,952.9 1327.0,952.9 1328.0,952.9 1329.0,952.8 1330.0,952.8 1331.0,952.8 1332.0,952.8 1333.0,952.7 1334.0,952.7 1335.0,952.7 1336.0,952.7 1337.0,952.7 1338.0,952.6 1339.0,952.6 1340.0,952.6 1341.0,952.6 1342.0,952.6 1343.0,952.5 1344.0,952.5 1345.0,952.5 1346.0,952.5 1347.0,952.5 1348.0,952.4 1349.0,952.4 1350.0,952.4 1351.0,952.4 1352.0,952.4 1353.0,952.4 1354.0,952.3 1355.0,952.3 1356.0,952.3 1357.0,952.3 1358.0,952.3 1359.0,952.3 1360.0,952.3 1361.0,952.3 1362.0,952.3 1363.0,952.3 1364.0,952.3 1365.0,952.3 1366.0,952.4 1367.0,952.4 1368.0,952.4 1369.0,952.4 1370.0,952.5 1371.0,952.5 1372.0,952.5 1373.0,952.5 1374.0,952.6 1375.0,952.6 1376.0,952.6 1377.0,952.7 1378.0,952.7 1379.0,952.7 1380.0,952.8 1381.0,952.8 1382.0,952.8 1383.0,952.8 1384.0,952.9 1385.0,952.9 1386.0,952.9 1387.0,952.9 1388.0,953.0 1389.0,953.0 1390.0,953.0 1391.0,953.0 1392.0,953.0 1393.0,953.0 1394.0,953.1 1395.0,953.1 1396.0,953.1 1397.0,953.1 1398.0,953.1 1399.0,953.1 1400.0,953.1 1401.0,953.2 1402.0,953.2 1403.0,953.2 1404.0,953.2 1405.0,953.2 1406.0,953.2 1407.0,953.2 1408.0,953.2 1409.0,953.2 1410.0,953.3 1411.0,953.3 1412.0,953.3 1413.0,953.3 1414.0,953.3 1415.0,953.3 1416.0,953.3 1417.0,953.3 1418.0,953.3 1419.0,953.3 1420.0,953.3 1421.0,953.3 1422.0,953.3 1423.0,953.3 1424.0,953.3 1425.0,953.3 1426.0,953.3 1427.0,953.3 1428.0,953.2 1429.0,953.2 1430.0,953.2 1431.0,953.2 1432.0,953.2 1433.0,953.2 1434.0,953.1 1435.0,953.1 1436.0,953.1 1437.0,953.1 1438.0,953.0 1439.0,952.9 1440.0,952.8 1441.0,952.7 1442.0,952.5 1443.0,952.4 1443.4,952.3 1444.0,952.2 1445.0,951.8 1446.0,951.3 1447.0,950.8 1447.5,950.5 1448.0,950.2 1449.0,949.4 1450.0,948.5 1451.0,947.5 1451.1,947.4 1452.0,946.2 1453.0,944.6 1454.0,943.2 1454.2,943.0 1455.0,942.2 1456.0,941.4 1457.0,941.0 1458.0,941.4 1459.0,942.2 1459.8,943.0 1460.0,943.2 1461.0,944.6 1462.0,946.1 1462.6,946.7 1463.0,947.0 1464.0,947.7 1465.0,948.1 1465.2,948.1 1466.0,948.2 1467.0,948.2 1467.8,948.2 1468.0,948.2 1469.0,947.9 1470.0,947.4 1471.0,946.9 1472.0,946.3 1473.0,945.6 1474.0,945.0 1474.2,944.9 1475.0,944.5 1476.0,944.2 1476.5,944.1 1477.0,944.1 1478.0,944.1 1478.8,944.1 1479.0,944.1 1480.0,944.6 1481.0,945.4 1481.5,945.8 1482.0,946.2 1483.0,947.3 1484.0,948.3 1484.4,948.7 1485.0,949.2 1486.0,950.0 1487.0,950.7 1488.0,951.2 1489.0,951.6 1490.0,952.0 1491.0,952.3 1492.0,952.5 1492.1,952.5 1493.0,952.6 1494.0,952.8 1495.0,952.9 1496.0,953.0 1497.0,953.1 1498.0,953.1 1499.0,953.2 1500.0,953.2 1501.0,953.2 1502.0,953.2 1503.0,953.3 1504.0,953.3 1505.0,953.3 1506.0,953.3 1507.0,953.3 1508.0,953.3 1509.0,953.3 1510.0,953.3 1511.0,953.4 1512.0,953.4 1513.0,953.4 1514.0,953.4 1515.0,953.4 1516.0,953.4 1517.0,953.4 1518.0,953.4 1519.0,953.4 1520.0,953.4 1521.0,953.4 1522.0,953.4 1523.0,953.4 1524.0,953.4 1525.0,953.4 1526.0,953.4 1527.0,953.4 1528.0,953.4 1529.0,953.4 1530.0,953.4 1531.0,953.4 1532.0,953.4 1533.0,953.4 1534.0,953.4 1535.0,953.4 1536.0,953.4 1537.0,953.4 1538.0,953.4 1539.0,953.4 1540.0,953.4 1541.0,953.4 1542.0,953.4 1543.0,953.5 1544.0,953.5 1545.0,953.5 1546.0,953.5 1547.0,953.5 1548.0,953.5 1549.0,953.5 1550.0,953.5 1551.0,953.5 1552.0,953.5 1553.0,953.5 1554.0,953.5 1555.0,953.5 1556.0,953.5 1557.0,953.5 1558.0,953.5 1559.0,953.5 1560.0,953.5 1561.0,953.5 1562.0,953.5 1563.0,953.5 1564.0,953.5 1565.0,953.5 1566.0,953.5 1567.0,953.5 1568.0,953.5 1569.0,953.5 1570.0,953.5 1571.0,953.5 1572.0,953.5 1573.0,953.5 1574.0,953.5 1575.0,953.5 1576.0,953.5 1577.0,953.5 1578.0,953.5 1579.0,953.5 1580.0,953.5 1581.0,953.5 1582.0,953.5 1583.0,953.5 1584.0,953.5 1585.0,953.5 1586.0,953.5 1587.0,953.5 1588.0,953.5 1589.0,953.5 1590.0,953.5 1591.0,953.5 1592.0,953.5 1593.0,953.5 1594.0,953.5 1595.0,953.5 1596.0,953.5 1597.0,953.5 1598.0,953.5 1599.0,953.5 1600.0,953.5 1601.0,953.5 1602.0,953.5 1603.0,953.5 1604.0,953.5 1605.0,953.5 1606.0,953.5 1607.0,953.5 1608.0,953.5 1609.0,953.5 1610.0,953.5 1611.0,953.5 1612.0,953.5 1613.0,953.5 1614.0,953.5 1615.0,953.5 1616.0,953.5 1617.0,953.5 1618.0,953.5 1619.0,953.5 1620.0,953.5 1621.0,953.5 1622.0,953.5 1623.0,953.5 1624.0,953.5 1625.0,953.5 1626.0,953.5 1627.0,953.5 1628.0,953.5 1629.0,953.5 1630.0,953.5 1631.0,953.5 1632.0,953.5 1633.0,953.5 1634.0,953.5 1635.0,953.5 1636.0,953.5 1637.0,953.5 1638.0,953.5 1639.0,953.5 1640.0,953.5 1641.0,953.5 1642.0,953.5 1643.0,953.5 1644.0,953.5 1645.0,953.5 1646.0,953.5 1647.0,953.5 1648.0,953.5 1649.0,953.5 1650.0,953.5 1651.0,953.5 1652.0,953.5 1653.0,953.5 1654.0,953.5 1655.0,953.5 1656.0,953.5 1657.0,953.5 1658.0,953.5 1659.0,953.5 1660.0,953.5 1661.0,953.5 1662.0,953.5 1663.0,953.5 1664.0,953.5 1665.0,953.5 1666.0,953.5 1667.0,953.5 1668.0,953.5 1669.0,953.5 1670.0,953.5 1671.0,953.5 1672.0,953.5 1673.0,953.5 1674.0,953.5 1675.0,953.5 1676.0,953.5 1677.0,953.5 1678.0,953.5 1679.0,953.5 1680.0,953.5 1681.0,953.5 1682.0,953.5 1683.0,953.5 1684.0,953.5 1685.0,953.5 1686.0,953.5 1687.0,953.5 1688.0,953.5 1689.0,953.5 1690.0,953.5 1691.0,953.5 1692.0,953.5 1693.0,953.5 1694.0,953.5 1695.0,953.5 1696.0,953.5 1697.0,953.5 1698.0,953.5 1699.0,953.5 1700.0,953.5 1701.0,953.5 1702.0,953.5 1703.0,953.5 1704.0,953.5 1705.0,953.5 1706.0,953.5 1707.0,953.5 1708.0,953.5 1709.0,953.5 1710.0,953.5 1711.0,953.5 1712.0,953.5 1713.0,953.5 1714.0,953.5 1715.0,953.5 1716.0,953.5 1717.0,953.5 1718.0,953.5 1719.0,953.5 1720.0,953.5 1721.0,953.5 1722.0,953.5 1723.0,953.5 1724.0,953.5 1725.0,953.5 1726.0,953.5 1727.0,953.5 1728.0,953.5 1729.0,953.5 1730.0,953.5 1731.0,953.5 1732.0,953.5 1733.0,953.5 1734.0,953.5 1735.0,953.5 1736.0,953.5 1737.0,953.5 1738.0,953.5 1739.0,953.5 1740.0,953.5 1741.0,953.5 1742.0,953.5 1743.0,953.5 1744.0,953.5 1745.0,953.5 1746.0,953.5 1747.0,953.5 1748.0,953.5 1749.0,953.5 1750.0,953.5 1751.0,953.5 1752.0,953.5 1753.0,953.5 1754.0,953.5 1755.0,953.5 1756.0,953.5 1757.0,953.5 1758.0,953.5 1759.0,953.5 1760.0,953.5 1761.0,953.5 1762.0,953.5 1763.0,953.5 1764.0,953.5 1765.0,953.5 1766.0,953.5 1767.0,953.5 1768.0,953.5 1769.0,953.5 1770.0,953.5 1771.0,953.5 1772.0,953.5 1773.0,953.5 1774.0,953.5 1775.0,953.5 1776.0,953.5 1777.0,953.5 1778.0,953.5 1779.0,953.5 1780.0,953.5 1781.0,953.5 1782.0,953.5 1783.0,953.5 1784.0,953.5 1785.0,953.5 1786.0,953.5 1787.0,953.5 1788.0,953.5 1789.0,953.5 1790.0,953.5 1791.0,953.5 1792.0,953.5 1793.0,953.5 1794.0,953.5 1795.0,953.5 1796.0,953.5 1797.0,953.5 1798.0,953.5 1799.0,953.5 1800.0,953.5 1801.0,953.5 1802.0,953.5 1803.0,953.5 1804.0,953.5 1805.0,953.5 1806.0,953.5 1807.0,953.5 1808.0,953.5 1809.0,953.5 1810.0,953.5 1811.0,953.5 1812.0,953.5 1813.0,953.5 1814.0,953.5 1815.0,953.5 1816.0,953.5 1817.0,953.5 1818.0,953.5 1819.0,953.5 1820.0,953.5 1821.0,953.5 1822.0,953.5 1823.0,953.5 1824.0,953.5 1825.0,953.5 1826.0,953.5 1827.0,953.5 1828.0,953.5 1828.5,953.5"/>
<path class="c" stroke-width="5.6" d="M140.3,1246.0 141.3,1240.5 142.0,1236.0 142.3,1233.9 143.3,1225.7 144.3,1216.7 144.4,1215.8 145.3,1207.7 146.3,1198.6 147.3,1188.7 148.3,1177.3 148.5,1174.8 149.3,1162.9 150.3,1145.1 151.3,1126.9 151.5,1123.5 152.3,1109.6 153.3,1092.0 154.3,1076.3 154.6,1072.3 155.3,1063.9 156.3,1053.0 157.3,1043.4 158.3,1034.6 158.7,1031.3 159.3,1026.5 160.3,1019.3 161.0,1015.0 161.3,1013.3 162.3,1008.4 163.0,1005.8 163.3,1004.9 164.3,1002.5 165.0,1001.5 165.3,1001.2 166.3,1000.5 166.9,1000.3 167.3,1000.4 168.3,1001.4 169.0,1002.5 169.3,1003.1 170.3,1006.0 171.0,1008.7 171.3,1010.1 172.3,1016.1 173.3,1023.6 174.3,1031.5 175.1,1037.4 175.3,1038.8 176.3,1045.7 177.3,1052.6 178.3,1059.4 179.3,1066.1 180.3,1072.4 181.3,1078.4 182.3,1084.0 183.3,1089.3 184.3,1094.4 185.3,1099.3 186.3,1104.1 187.3,1108.7 187.4,1109.2 188.3,1113.3 189.3,1117.8 190.3,1122.1 191.3,1126.4 192.3,1130.6 193.3,1134.7 194.3,1138.8 195.3,1142.8 195.6,1144.0 196.3,1146.8 197.3,1150.9 198.3,1154.9 199.3,1159.0 200.3,1162.9 201.3,1166.6 202.3,1170.1 203.3,1173.3 203.8,1174.8 204.3,1176.2 205.3,1178.8 206.3,1181.2 207.3,1183.4 208.0,1185.0 208.3,1185.7 209.3,1187.9 210.3,1190.0 211.3,1192.0 212.0,1193.2 212.3,1193.7 213.3,1195.2 214.3,1196.6 215.3,1197.9 216.3,1199.2 217.0,1200.0 217.3,1200.4 218.3,1201.5 219.3,1202.6 220.3,1203.6 221.3,1204.6 222.3,1205.5 223.3,1206.4 224.3,1207.2 225.3,1207.9 226.3,1208.7 227.3,1209.4 227.5,1209.5 228.3,1210.1 229.3,1210.8 230.3,1211.4 231.3,1212.0 232.3,1212.6 232.5,1212.7 233.3,1213.1 234.3,1213.6 235.3,1214.0 236.3,1214.5 237.3,1214.9 238.3,1215.3 239.3,1215.7 240.3,1216.0 241.3,1216.4 242.3,1216.7 242.8,1216.8 243.3,1216.9 244.3,1217.2 245.3,1217.4 246.3,1217.7 247.3,1217.9 248.3,1218.1 249.3,1218.3 250.3,1218.5 251.3,1218.7 252.3,1218.9 253.0,1219.0 253.3,1219.1 254.3,1219.3 255.3,1219.4 256.3,1219.6 257.3,1219.8 258.3,1220.0 259.3,1220.2 260.3,1220.4 261.3,1220.5 262.3,1220.7 263.3,1220.9 264.3,1221.1 265.3,1221.3 266.3,1221.5 267.3,1221.7 268.3,1221.9 269.3,1222.1 270.3,1222.2 271.3,1222.4 272.0,1222.5 272.3,1222.5 273.3,1222.7 274.3,1222.8 275.3,1223.0 276.3,1223.1 277.3,1223.3 278.3,1223.4 279.3,1223.5 280.3,1223.6 281.3,1223.6 281.7,1223.6 282.3,1223.6 283.3,1223.5 284.3,1223.4 285.3,1223.3 286.3,1223.2 287.3,1223.0 288.0,1222.9 288.3,1222.9 289.3,1222.7 290.3,1222.5 291.3,1222.2 292.3,1222.0 293.3,1221.7 294.0,1221.5 294.3,1221.4 295.3,1221.0 296.3,1220.5 297.3,1220.1 298.3,1219.6 299.0,1219.3 299.3,1219.2 300.3,1218.7 301.3,1218.3 302.3,1218.0 303.2,1217.9 303.3,1217.9 304.3,1218.0 305.3,1218.2 306.3,1218.5 307.3,1218.8 307.5,1218.9 308.3,1219.2 309.3,1219.7 310.3,1220.3 311.3,1221.0 312.3,1221.7 312.5,1221.9 313.3,1222.6 314.3,1223.7 315.3,1224.9 316.3,1226.1 317.3,1227.3 317.5,1227.5 318.3,1228.4 319.3,1229.7 320.3,1231.0 321.3,1232.1 322.3,1232.9 322.7,1233.2 323.3,1233.5 324.3,1234.0 325.3,1234.4 326.3,1234.7 327.3,1235.0 328.3,1235.3 328.5,1235.3 329.3,1235.5 330.3,1235.9 331.3,1235.8 332.3,1235.6 333.3,1236.0 334.3,1236.2 335.0,1235.7 335.3,1235.9 336.3,1236.5 337.3,1236.4 338.3,1236.3 339.3,1236.4 340.3,1236.7 341.3,1237.0 342.3,1237.1 343.3,1236.9 344.3,1236.8 345.3,1237.2 346.3,1237.5 347.3,1237.5 348.3,1237.5 349.3,1237.2 350.3,1237.0 351.3,1237.2 352.3,1237.6 353.3,1237.5 354.3,1237.2 355.0,1237.1 355.3,1237.4 356.3,1237.5 357.3,1237.5 358.3,1237.7 359.3,1237.9 360.3,1238.0 361.3,1238.2 362.3,1238.4 363.3,1238.5 364.3,1238.3 365.3,1238.0 366.3,1238.1 367.3,1238.2 368.3,1238.2 369.3,1238.4 370.3,1238.4 371.3,1237.9 372.3,1237.9 373.3,1238.3 374.3,1238.5 375.3,1238.3 376.0,1238.3 376.3,1238.6 377.3,1238.7 378.3,1238.3 379.3,1238.3 380.3,1238.3 381.3,1238.3 382.3,1238.2 383.3,1238.2 384.3,1238.6 385.3,1238.6 386.3,1238.4 387.3,1238.2 388.3,1238.0 389.3,1238.3 390.3,1238.4 391.3,1238.4 392.3,1238.3 393.3,1238.4 394.3,1238.5 395.3,1238.3 396.3,1238.1 397.3,1238.2 398.3,1238.5 399.3,1238.6 400.0,1238.3 400.3,1238.2 401.3,1238.4 402.3,1238.5 403.3,1238.6 404.3,1238.5 405.3,1238.2 406.3,1238.3 407.3,1238.6 408.3,1238.7 409.3,1238.6 410.3,1238.9 411.3,1239.1 412.3,1238.5 413.3,1238.0 414.3,1237.9 415.3,1237.9 416.3,1238.0 417.3,1238.0 418.3,1238.1 419.3,1238.1 420.3,1237.7 421.3,1238.0 422.3,1238.8 423.3,1238.9 424.3,1238.6 425.3,1238.7 426.3,1238.9 427.3,1238.7 428.3,1238.2 429.3,1238.0 430.3,1238.0 431.3,1237.9 432.3,1237.8 433.3,1237.8 434.3,1237.9 435.3,1238.0 436.3,1237.9 437.3,1237.6 438.3,1237.8 439.3,1238.2 440.3,1238.0 441.3,1238.0 442.3,1238.1 443.0,1238.0 443.3,1237.7 444.3,1237.1 445.3,1237.1 446.3,1237.0 447.3,1236.7 448.3,1236.7 449.3,1236.5 450.3,1236.4 451.3,1236.7 452.3,1236.7 453.3,1236.4 454.3,1236.3 455.3,1236.3 456.3,1236.2 457.3,1236.2 458.0,1236.2 458.3,1236.2 459.3,1236.3 460.3,1236.3 461.3,1236.0 462.3,1235.7 463.3,1235.6 464.3,1235.6 465.3,1235.5 466.3,1235.1 467.3,1234.4 468.3,1234.3 469.3,1234.9 470.0,1235.3 470.3,1235.4 471.3,1235.2 472.3,1234.9 473.3,1234.5 474.3,1234.3 475.3,1234.3 476.3,1234.3 477.3,1234.2 478.3,1234.2 479.3,1234.1 480.3,1234.1 481.3,1233.8 482.3,1233.5 482.6,1233.5 483.3,1233.8 484.3,1234.2 485.3,1234.2 486.3,1234.4 487.3,1234.6 488.3,1234.7 489.3,1234.6 490.3,1234.5 491.0,1234.9 491.3,1235.1 492.3,1234.9 493.3,1234.8 494.3,1235.0 495.3,1235.2 496.3,1235.4 497.3,1235.8 498.3,1235.6 499.0,1235.5 499.3,1236.1 500.3,1236.3 501.3,1236.2 502.3,1236.1 503.3,1235.9 504.3,1236.0 505.3,1236.3 506.3,1236.5 507.3,1236.5 508.3,1236.3 509.3,1236.1 510.3,1236.3 511.3,1236.7 512.3,1236.8 513.3,1236.4 514.3,1236.4 515.0,1236.7 515.3,1236.8 516.3,1236.5 517.3,1236.2 518.3,1236.2 519.3,1236.4 520.3,1236.3 521.3,1236.3 522.3,1236.7 523.3,1236.9 524.3,1236.6 525.3,1236.4 526.3,1236.7 527.3,1236.8 528.3,1236.5 529.3,1236.7 529.8,1236.8 530.3,1236.7 531.3,1236.8 532.3,1236.9 533.3,1237.1 534.3,1237.1 535.3,1237.1 536.3,1237.4 537.3,1237.4 538.3,1237.1 539.3,1236.6 540.3,1236.6 541.3,1237.1 542.3,1237.2 543.3,1237.0 544.3,1236.9 545.3,1236.7 546.3,1236.7 547.3,1236.7 548.3,1236.8 549.3,1236.7 550.0,1236.7 550.3,1237.1 551.3,1237.2 552.3,1236.8 553.3,1236.8 554.3,1237.1 555.3,1237.2 556.3,1237.3 557.3,1237.2 558.3,1237.0 559.3,1237.3 560.3,1237.5 561.3,1237.4 562.3,1237.2 563.3,1236.9 564.3,1236.5 565.3,1236.8 566.3,1237.3 567.3,1237.4 568.3,1237.3 569.3,1237.1 570.3,1237.0 571.3,1236.9 572.3,1236.9 573.3,1236.9 574.3,1236.8 575.3,1236.8 576.3,1236.9 577.3,1236.9 578.3,1237.0 579.3,1237.0 580.3,1237.0 581.3,1236.8 582.3,1236.1 583.3,1236.0 584.3,1236.5 585.3,1236.9 586.3,1236.9 587.0,1236.7 587.3,1236.4 588.3,1236.1 589.3,1236.2 590.3,1236.1 591.3,1235.6 592.3,1235.4 593.3,1235.6 594.3,1235.3 595.3,1234.8 596.3,1235.1 597.3,1235.3 598.3,1235.2 599.3,1235.1 600.3,1234.9 601.3,1234.6 602.0,1234.5 602.3,1234.4 603.3,1234.1 604.3,1234.1 605.3,1233.9 606.3,1233.0 607.3,1232.3 607.5,1232.6 608.3,1233.0 609.3,1232.6 610.3,1231.9 611.3,1231.5 612.3,1231.1 613.3,1231.1 614.3,1231.5 615.3,1231.6 616.3,1231.2 617.3,1231.2 618.3,1231.5 619.3,1231.7 620.3,1232.0 621.3,1232.3 622.3,1232.5 623.3,1232.5 624.3,1232.2 625.3,1231.8 626.3,1231.8 627.0,1232.2 627.3,1232.2 628.3,1231.8 629.3,1231.4 630.3,1231.5 631.3,1232.1 632.3,1232.3 633.3,1232.1 634.3,1231.8 635.3,1231.8 636.3,1232.2 637.3,1232.8 638.3,1232.8 639.3,1232.5 640.3,1232.2 641.3,1232.3 642.3,1232.8 643.0,1233.0 643.3,1232.6 644.3,1232.6 645.3,1232.7 646.3,1232.4 647.3,1232.2 648.3,1232.7 649.3,1233.1 650.3,1232.9 651.3,1232.6 652.3,1232.8 653.0,1233.6 653.3,1233.9 654.3,1233.8 655.3,1233.7 656.3,1233.8 657.3,1234.0 658.3,1234.1 659.3,1234.3 660.3,1234.4 661.3,1234.7 662.3,1234.8 663.3,1234.5 663.5,1234.4 664.3,1234.3 665.3,1234.0 666.3,1233.9 667.3,1234.3 668.3,1234.3 669.3,1234.2 670.3,1234.3 671.3,1234.2 672.3,1234.2 673.0,1234.4 673.3,1234.6 674.3,1234.5 675.3,1234.2 676.3,1234.2 677.3,1234.1 678.3,1233.9 679.3,1233.8 680.0,1233.6 680.3,1233.4 681.3,1233.2 682.3,1232.8 683.3,1232.0 683.5,1231.9 684.3,1230.3 685.3,1227.5 685.7,1226.2 686.3,1223.6 687.3,1218.1 688.0,1215.2 688.3,1214.4 689.3,1211.5 690.2,1210.7 690.3,1210.7 691.3,1212.0 692.3,1215.2 692.4,1215.7 693.3,1219.9 694.3,1225.6 694.7,1227.0 695.3,1228.5 696.3,1230.5 696.9,1231.4 697.3,1232.2 698.3,1233.7 699.3,1234.5 699.4,1234.8 700.3,1235.4 701.3,1236.0 702.3,1236.2 703.3,1236.2 704.3,1236.1 705.3,1236.3 706.0,1236.3 706.3,1236.2 707.3,1236.6 708.3,1236.4 709.3,1236.4 710.3,1237.2 711.3,1237.4 712.3,1236.8 713.3,1237.0 714.3,1237.7 714.8,1237.2 715.3,1236.5 716.3,1237.0 717.3,1237.6 718.3,1237.7 719.3,1237.7 720.3,1237.8 721.3,1237.7 722.3,1237.3 723.3,1237.1 724.3,1237.3 725.3,1237.4 726.3,1237.7 727.3,1238.2 728.3,1238.1 729.3,1237.9 730.0,1237.9 730.3,1238.1 731.3,1238.0 732.3,1237.7 733.3,1238.0 734.3,1238.5 735.3,1238.3 736.3,1237.9 737.3,1237.6 738.3,1237.5 739.3,1237.9 740.3,1238.5 741.3,1238.3 742.3,1238.0 743.3,1238.0 744.3,1238.2 745.3,1238.2 745.5,1238.1 746.3,1238.1 747.3,1238.5 748.3,1238.7 749.3,1238.3 750.3,1238.2 751.3,1238.3 752.3,1238.0 753.3,1237.9 754.3,1238.1 755.3,1238.2 756.3,1238.1 757.3,1238.0 758.3,1238.0 759.3,1237.7 760.3,1237.4 761.3,1237.6 762.3,1237.9 763.3,1237.9 764.3,1238.1 765.3,1238.4 766.0,1238.4 766.3,1238.1 767.3,1237.9 768.3,1238.0 769.3,1237.8 770.3,1237.8 771.3,1238.1 772.3,1238.2 773.3,1238.4 774.3,1238.3 775.3,1238.0 776.3,1238.1 777.3,1238.1 778.3,1237.6 779.3,1237.3 780.3,1237.5 781.3,1237.8 782.3,1237.9 783.3,1237.7 784.3,1237.5 785.3,1237.6 786.3,1238.0 786.5,1238.0 787.3,1237.6 788.3,1237.2 789.3,1237.3 790.3,1237.3 791.3,1237.2 792.3,1237.2 793.3,1236.7 794.3,1235.9 795.3,1235.7 796.3,1235.9 797.0,1235.8 797.3,1235.7 798.3,1235.1 799.3,1234.7 800.3,1234.7 801.3,1234.7 802.3,1234.0 803.3,1233.3 804.3,1233.0 805.3,1232.8 806.3,1232.8 807.0,1233.0 807.3,1233.1 808.3,1232.5 809.3,1232.0 810.3,1231.9 811.3,1231.7 812.3,1231.5 813.3,1231.4 814.3,1231.2 815.0,1231.0 815.3,1231.2 816.3,1231.0 817.3,1230.8 818.3,1230.8 819.3,1230.9 820.3,1231.1 821.3,1230.9 822.3,1230.5 823.3,1230.3 823.4,1230.5 824.3,1230.6 825.3,1230.6 826.3,1230.5 827.3,1230.3 828.3,1230.6 829.3,1231.0 830.3,1231.0 831.3,1231.0 832.3,1231.0 833.0,1230.6 833.3,1230.5 834.3,1230.9 835.3,1231.2 836.3,1231.0 837.3,1230.9 838.3,1230.9 839.3,1230.8 840.3,1230.2 841.3,1229.8 841.9,1230.0 842.3,1230.2 843.3,1230.1 844.3,1229.7 845.3,1229.5 846.3,1229.3 847.0,1229.1 847.3,1229.1 848.3,1228.8 849.3,1228.0 850.3,1227.5 851.3,1227.0 852.1,1226.1 852.3,1225.9 853.3,1225.7 854.3,1225.0 855.3,1224.2 855.5,1224.2 856.3,1223.6 857.3,1222.9 858.3,1222.4 858.7,1222.3 859.3,1222.6 860.3,1223.3 861.3,1224.2 862.3,1225.6 862.5,1226.0 863.3,1226.3 864.3,1227.5 865.3,1228.9 866.3,1229.6 866.5,1229.5 867.3,1230.2 868.3,1230.7 869.3,1230.8 870.3,1231.1 871.3,1231.7 872.3,1232.2 873.3,1232.7 874.3,1233.0 875.0,1232.8 875.3,1232.7 876.3,1233.0 877.3,1233.3 878.3,1233.5 879.3,1233.4 880.3,1233.4 881.3,1233.8 882.3,1234.4 883.3,1234.9 884.3,1234.7 884.9,1234.2 885.3,1234.2 886.3,1234.3 887.3,1234.2 888.3,1234.2 889.3,1234.1 890.3,1233.7 891.3,1233.0 892.3,1232.6 893.0,1232.5 893.3,1232.5 894.3,1232.6 895.3,1232.5 896.3,1232.1 897.3,1231.9 898.3,1232.1 899.3,1232.3 900.3,1231.8 901.3,1231.3 902.3,1231.7 903.3,1232.1 904.3,1232.2 905.3,1232.5 906.0,1233.0 906.3,1233.1 907.3,1233.2 908.3,1233.3 909.3,1233.4 910.3,1233.4 911.3,1233.5 912.3,1233.7 913.3,1233.9 914.3,1234.4 915.3,1235.0 916.3,1234.8 917.3,1234.1 918.3,1233.9 919.3,1234.0 920.0,1233.9 920.3,1234.0 921.3,1234.5 922.3,1234.8 923.3,1235.2 924.3,1235.6 925.3,1235.3 926.3,1235.0 927.3,1235.0 928.3,1234.8 929.3,1234.7 930.3,1234.9 930.8,1235.2 931.3,1234.8 932.3,1234.4 933.3,1234.3 934.3,1234.5 935.3,1234.8 936.3,1235.0 937.3,1235.0 938.3,1235.0 939.3,1234.8 940.3,1234.8 941.3,1234.7 942.3,1234.4 943.3,1234.1 944.3,1234.2 945.3,1233.9 946.0,1233.8 946.3,1234.2 947.3,1234.3 948.3,1234.4 949.3,1234.0 950.3,1233.6 951.3,1233.6 952.3,1233.7 953.3,1234.0 954.3,1234.1 955.3,1233.6 956.3,1233.2 957.3,1233.3 958.3,1233.3 959.3,1232.9 960.3,1232.8 961.3,1233.2 961.5,1233.2 962.3,1233.0 963.3,1232.7 964.3,1232.7 965.3,1233.1 966.3,1233.0 967.3,1232.7 968.3,1232.6 969.3,1233.1 970.3,1233.7 971.3,1233.6 972.3,1233.4 973.3,1233.9 974.3,1233.9 975.3,1233.1 976.3,1232.9 977.0,1233.4 977.3,1233.6 978.3,1233.5 979.3,1233.7 980.3,1234.1 981.3,1234.3 982.3,1234.1 983.3,1233.9 984.3,1234.0 985.3,1233.9 986.3,1233.8 987.3,1234.0 988.3,1234.1 989.3,1234.0 990.3,1234.2 991.3,1234.4 992.3,1234.6 993.3,1234.6 994.3,1234.1 995.3,1233.7 996.3,1233.8 997.3,1233.9 998.3,1233.9 999.3,1233.7 1000.3,1233.8 1001.3,1234.1 1002.3,1234.0 1003.3,1233.9 1004.3,1234.1 1005.3,1233.7 1006.3,1233.2 1007.3,1233.3 1008.0,1233.4 1008.3,1233.2 1009.3,1233.1 1010.3,1233.2 1011.3,1233.2 1012.3,1233.3 1013.3,1233.4 1014.3,1233.2 1015.3,1232.7 1016.3,1232.6 1017.3,1232.6 1018.3,1232.5 1019.3,1232.4 1020.3,1232.6 1021.3,1232.6 1022.3,1232.5 1023.0,1232.4 1023.3,1232.1 1024.3,1231.9 1025.3,1231.7 1026.3,1231.6 1027.3,1231.4 1028.3,1230.7 1029.3,1230.4 1030.3,1230.8 1030.5,1231.0 1031.3,1230.7 1032.3,1230.3 1033.3,1230.1 1034.3,1230.0 1035.3,1229.9 1036.3,1229.6 1037.3,1229.0 1037.4,1228.8 1038.3,1228.4 1039.3,1227.6 1040.3,1226.7 1041.3,1225.7 1041.5,1225.5 1042.3,1224.7 1043.3,1223.6 1044.3,1222.4 1045.3,1221.1 1045.6,1220.7 1046.3,1219.7 1047.3,1218.0 1048.3,1216.0 1049.3,1213.5 1050.3,1209.9 1050.5,1209.0 1051.3,1203.8 1052.2,1195.0 1052.3,1193.8 1053.3,1176.6 1053.6,1170.0 1054.3,1149.9 1054.9,1130.0 1055.3,1115.9 1056.1,1090.0 1056.3,1085.5 1057.3,1065.4 1057.9,1060.8 1058.3,1062.9 1059.3,1080.9 1059.7,1090.0 1060.3,1108.5 1060.9,1130.0 1061.3,1143.2 1062.2,1170.0 1062.3,1172.2 1063.3,1190.7 1063.6,1195.0 1064.3,1203.7 1065.2,1212.0 1065.3,1212.7 1066.3,1218.7 1067.0,1221.5 1067.3,1222.4 1068.3,1225.0 1069.3,1226.6 1069.5,1226.8 1070.3,1227.4 1071.3,1228.0 1072.3,1228.4 1073.2,1228.5 1073.3,1228.5 1074.3,1228.2 1075.3,1227.6 1076.0,1227.0 1076.3,1226.7 1077.3,1225.2 1078.3,1223.0 1078.4,1222.7 1079.3,1219.5 1080.3,1214.9 1080.5,1214.0 1081.3,1210.1 1082.3,1205.1 1082.5,1204.3 1083.3,1201.1 1084.3,1197.9 1084.5,1197.5 1085.3,1196.1 1086.3,1195.1 1086.6,1195.0 1087.3,1195.4 1088.3,1196.8 1088.7,1197.5 1089.3,1199.0 1090.3,1202.8 1090.7,1204.3 1091.3,1206.5 1092.3,1210.2 1092.8,1212.0 1093.3,1213.8 1094.3,1217.2 1094.8,1218.6 1095.3,1219.7 1096.3,1221.6 1097.3,1223.0 1098.3,1223.9 1099.3,1224.6 1099.9,1224.8 1100.3,1224.7 1101.3,1224.7 1102.3,1224.8 1103.3,1225.0 1104.3,1225.5 1105.3,1225.7 1106.3,1225.3 1107.3,1224.9 1108.0,1224.7 1108.3,1224.9 1109.3,1225.3 1110.3,1225.3 1111.3,1225.3 1112.3,1225.3 1113.3,1225.1 1114.3,1225.0 1115.0,1224.9 1115.3,1224.4 1116.3,1224.0 1117.3,1223.9 1118.3,1223.4 1118.6,1223.3 1119.3,1222.2 1120.3,1218.8 1121.2,1212.5 1121.3,1212.1 1122.0,1209.4 1122.3,1209.9 1122.8,1212.2 1123.3,1215.9 1123.7,1218.9 1124.3,1221.2 1125.3,1223.1 1125.4,1223.2 1126.3,1223.6 1127.3,1223.6 1128.0,1223.4 1128.3,1223.6 1129.3,1223.9 1130.3,1223.9 1131.3,1223.6 1132.3,1223.2 1133.3,1223.0 1134.3,1222.7 1135.3,1222.4 1136.3,1222.4 1137.3,1222.7 1138.0,1222.8 1138.3,1222.6 1139.3,1222.7 1140.3,1222.9 1141.3,1222.7 1142.3,1222.5 1143.3,1222.4 1144.3,1222.4 1145.3,1222.6 1146.3,1222.6 1147.3,1222.2 1148.3,1222.2 1149.3,1222.6 1150.1,1222.6 1150.3,1222.6 1151.3,1222.8 1152.3,1222.7 1153.3,1222.6 1154.3,1222.6 1155.3,1222.6 1156.3,1223.0 1157.3,1223.3 1158.0,1223.7 1158.3,1224.1 1159.3,1224.1 1160.3,1223.8 1161.3,1223.8 1162.3,1224.4 1163.3,1224.7 1164.3,1224.5 1165.3,1224.6 1166.3,1224.7 1166.5,1224.7 1167.3,1224.6 1168.3,1224.5 1169.3,1224.6 1170.3,1225.0 1171.3,1225.6 1172.3,1225.8 1173.3,1225.7 1174.3,1225.7 1175.0,1225.7 1175.3,1225.7 1176.3,1225.7 1177.3,1225.6 1178.3,1225.5 1179.3,1225.3 1180.3,1225.3 1181.3,1225.6 1182.3,1225.7 1182.9,1226.0 1183.3,1226.2 1184.3,1225.9 1185.3,1225.6 1186.3,1225.7 1187.3,1225.8 1188.3,1225.8 1189.3,1225.3 1190.0,1224.8 1190.3,1224.8 1191.3,1224.8 1192.3,1224.5 1193.3,1224.2 1194.3,1223.9 1195.0,1223.8 1195.3,1223.8 1196.3,1223.0 1197.3,1221.8 1198.3,1220.5 1198.5,1220.3 1199.3,1219.9 1200.3,1218.5 1201.3,1216.5 1202.3,1215.3 1202.4,1215.8 1203.3,1214.4 1204.3,1212.8 1204.5,1212.6 1205.3,1212.0 1206.3,1211.5 1206.5,1211.8 1207.3,1212.2 1208.3,1213.2 1209.0,1213.9 1209.3,1214.2 1210.3,1216.2 1211.3,1218.6 1211.6,1219.2 1212.3,1219.7 1213.3,1220.4 1214.3,1220.9 1214.5,1221.0 1215.3,1221.7 1216.3,1222.1 1217.3,1222.1 1217.8,1221.8 1218.3,1221.7 1219.3,1222.0 1220.3,1222.1 1221.3,1222.2 1221.5,1222.1 1222.3,1222.1 1223.3,1222.0 1224.3,1221.6 1225.0,1221.0 1225.3,1220.5 1226.3,1218.2 1227.2,1215.7 1227.3,1215.2 1228.3,1212.0 1229.1,1210.1 1229.3,1210.0 1230.3,1208.6 1230.8,1208.0 1231.3,1207.5 1232.3,1207.0 1232.5,1206.8 1233.3,1206.8 1234.3,1207.7 1235.0,1208.5 1235.3,1208.8 1236.3,1209.3 1237.3,1209.6 1238.3,1209.8 1239.3,1209.9 1240.3,1209.9 1241.3,1209.5 1242.3,1209.2 1243.0,1209.0 1243.3,1209.1 1244.3,1209.3 1245.3,1209.2 1246.3,1208.9 1247.3,1208.7 1248.3,1208.6 1248.5,1208.4 1249.3,1208.5 1250.3,1209.1 1251.3,1209.8 1251.8,1209.9 1252.3,1209.9 1253.3,1210.3 1254.3,1210.9 1254.7,1211.3 1255.3,1212.0 1256.3,1213.0 1257.3,1214.0 1257.7,1214.4 1258.3,1215.0 1259.3,1216.2 1260.3,1217.1 1260.8,1217.5 1261.3,1218.0 1262.3,1218.6 1263.3,1218.8 1264.3,1219.3 1264.8,1219.9 1265.3,1220.0 1266.3,1220.0 1267.3,1220.4 1268.3,1221.2 1269.0,1221.7 1269.3,1222.0 1270.3,1222.5 1271.3,1223.0 1272.3,1223.1 1273.3,1222.7 1274.3,1222.9 1275.0,1223.1 1275.3,1222.7 1276.3,1222.8 1277.3,1223.4 1278.3,1223.9 1279.3,1223.8 1280.3,1223.3 1281.3,1223.2 1282.3,1223.5 1283.3,1223.6 1284.3,1223.6 1285.3,1223.8 1286.3,1223.9 1287.3,1223.6 1288.3,1223.4 1289.3,1223.5 1290.0,1223.5 1290.3,1223.2 1291.3,1223.2 1292.3,1223.0 1293.3,1223.0 1294.3,1223.5 1295.3,1223.8 1296.3,1223.8 1297.3,1223.7 1298.3,1223.6 1299.3,1223.6 1300.3,1223.5 1301.3,1223.6 1302.3,1223.7 1303.3,1223.7 1304.3,1223.8 1305.3,1223.8 1306.3,1223.7 1307.3,1223.7 1308.0,1223.8 1308.3,1223.9 1309.3,1223.6 1310.3,1223.3 1311.3,1223.5 1312.3,1223.4 1313.3,1223.1 1314.3,1223.6 1315.3,1223.7 1316.3,1223.2 1317.3,1223.3 1318.3,1223.5 1319.3,1223.2 1320.3,1223.2 1321.3,1223.4 1322.3,1223.6 1323.3,1223.7 1324.3,1223.5 1325.3,1223.5 1326.3,1223.6 1327.3,1223.5 1328.3,1223.5 1329.3,1223.3 1330.3,1222.9 1331.3,1222.8 1332.3,1222.7 1333.3,1222.5 1334.3,1222.4 1335.3,1222.6 1336.3,1222.7 1337.3,1222.3 1338.3,1222.0 1339.3,1222.0 1340.0,1221.5 1340.3,1221.0 1341.3,1221.0 1342.3,1221.0 1343.3,1220.7 1344.3,1220.5 1345.3,1220.3 1346.3,1220.0 1347.3,1219.4 1348.3,1219.1 1349.3,1219.3 1350.3,1219.6 1351.3,1219.6 1352.3,1219.1 1353.1,1218.9 1353.3,1219.1 1354.3,1219.2 1355.3,1219.1 1356.3,1218.5 1357.3,1217.9 1358.3,1217.8 1359.3,1217.7 1360.3,1217.5 1361.3,1217.5 1362.3,1217.6 1363.3,1217.5 1364.3,1217.6 1365.0,1217.7 1365.3,1217.8 1366.3,1217.6 1367.3,1217.3 1368.3,1216.7 1369.3,1216.6 1370.3,1216.8 1371.3,1216.9 1372.3,1216.7 1373.3,1216.8 1374.3,1217.3 1375.3,1217.5 1376.1,1217.2 1376.3,1217.0 1377.3,1217.3 1378.3,1217.3 1379.3,1217.4 1380.3,1217.7 1381.3,1217.7 1382.3,1218.0 1383.3,1218.5 1384.3,1218.7 1385.3,1218.5 1386.0,1218.5 1386.3,1218.8 1387.3,1219.2 1388.3,1219.5 1389.3,1219.8 1390.3,1220.3 1391.3,1220.7 1392.3,1220.7 1393.3,1220.8 1394.3,1221.1 1395.3,1221.0 1396.2,1221.2 1396.3,1221.4 1397.3,1221.4 1398.3,1221.8 1399.3,1222.2 1400.3,1222.1 1401.3,1221.9 1402.3,1221.7 1403.3,1221.5 1404.3,1221.6 1405.3,1221.7 1406.3,1221.6 1407.3,1221.6 1408.3,1221.3 1409.3,1221.1 1410.3,1221.5 1411.3,1222.0 1412.3,1222.2 1413.3,1222.0 1414.0,1221.8 1414.3,1221.9 1415.3,1221.8 1416.3,1221.6 1417.3,1221.3 1418.3,1221.2 1419.3,1221.6 1420.3,1221.7 1421.3,1221.1 1422.3,1221.1 1423.3,1221.5 1424.3,1221.6 1425.3,1221.3 1426.3,1220.9 1427.3,1221.1 1428.3,1221.5 1429.3,1221.6 1430.3,1221.4 1431.3,1221.2 1432.3,1221.2 1433.3,1221.0 1433.5,1220.8 1434.3,1221.1 1435.3,1221.5 1436.3,1221.4 1437.3,1221.0 1438.3,1221.0 1439.3,1221.4 1440.3,1221.4 1441.3,1220.9 1442.3,1221.0 1443.3,1221.5 1444.3,1221.7 1445.3,1221.8 1446.3,1221.3 1447.3,1221.0 1448.3,1221.6 1449.3,1221.9 1450.0,1221.8 1450.3,1221.5 1451.3,1221.6 1452.3,1221.7 1453.3,1221.3 1454.3,1221.2 1455.3,1221.6 1456.3,1221.8 1457.3,1221.9 1458.3,1221.7 1459.3,1221.5 1460.3,1221.3 1461.3,1221.3 1462.3,1221.7 1463.3,1221.7 1464.3,1221.8 1465.3,1222.1 1466.3,1222.1 1467.3,1222.1 1468.0,1222.1 1468.3,1222.0 1469.3,1221.9 1470.3,1221.6 1471.3,1221.1 1472.3,1220.5 1473.3,1220.1 1474.3,1219.5 1474.5,1219.1 1475.3,1219.0 1476.3,1218.8 1477.3,1218.2 1478.3,1217.7 1479.3,1217.5 1480.3,1217.0 1480.9,1216.0 1481.3,1215.2 1482.3,1214.8 1483.3,1214.6 1484.3,1214.3 1485.3,1214.1 1486.3,1213.9 1486.5,1213.6 1487.3,1213.3 1488.3,1213.0 1489.3,1212.6 1490.3,1212.8 1491.3,1213.1 1491.8,1212.7 1492.3,1212.0 1493.3,1212.3 1494.3,1213.3 1495.3,1213.9 1496.3,1214.7 1497.0,1215.7 1497.3,1215.6 1498.3,1215.6 1499.3,1216.5 1500.3,1217.7 1501.3,1218.2 1502.3,1218.4 1502.4,1218.9 1503.3,1219.0 1504.3,1218.4 1505.3,1218.0 1506.3,1218.4 1507.3,1219.0 1508.3,1219.3 1509.3,1219.1 1510.0,1218.9 1510.3,1219.0 1511.3,1219.0 1512.3,1218.6 1513.3,1218.4 1514.3,1218.9 1515.3,1219.3 1516.3,1219.2 1517.3,1219.0 1518.3,1219.0 1519.3,1218.9 1519.6,1218.7 1520.3,1218.7 1521.3,1218.8 1522.3,1218.7 1523.3,1218.8 1524.3,1219.0 1525.3,1218.9 1526.3,1218.7 1527.3,1218.8 1528.3,1218.7 1529.3,1218.4 1530.3,1218.5 1531.3,1218.5 1532.3,1218.3 1533.3,1218.2 1534.3,1218.3 1535.3,1218.3 1536.3,1218.5 1537.3,1218.4 1538.3,1218.0 1539.3,1217.9 1540.0,1218.2 1540.3,1218.0 1541.3,1217.8 1542.3,1217.8 1543.3,1217.7 1544.3,1217.8 1545.3,1217.9 1546.3,1217.6 1547.3,1217.3 1548.3,1217.2 1549.3,1217.3 1550.3,1217.0 1551.3,1216.6 1552.3,1216.7 1553.3,1217.3 1554.3,1217.5 1555.3,1217.3 1556.3,1217.2 1557.3,1217.2 1558.3,1217.1 1559.3,1216.9 1560.3,1216.6 1561.3,1216.4 1562.3,1216.4 1562.7,1216.5 1563.3,1216.4 1564.3,1216.6 1565.3,1216.8 1566.3,1216.7 1567.3,1216.8 1568.3,1216.6 1569.3,1215.9 1570.3,1215.8 1571.3,1216.1 1572.3,1216.1 1573.3,1216.2 1574.3,1216.2 1575.3,1216.0 1576.3,1216.3 1577.3,1216.5 1578.3,1216.1 1579.3,1215.6 1580.3,1215.5 1581.3,1215.7 1582.3,1215.9 1583.3,1215.6 1584.3,1215.3 1585.0,1215.4 1585.3,1215.5 1586.3,1215.3 1587.3,1215.2 1588.3,1215.3 1589.3,1215.4 1590.3,1215.4 1591.3,1215.1 1592.3,1214.9 1593.3,1214.8 1594.3,1214.8 1595.3,1214.9 1596.3,1214.9 1597.3,1214.4 1598.3,1214.2 1599.3,1214.9 1600.3,1215.1 1601.3,1214.8 1602.3,1214.4 1603.3,1214.6 1604.3,1214.7 1605.3,1214.1 1605.7,1214.0 1606.3,1214.0 1607.3,1213.8 1608.3,1213.5 1609.3,1213.2 1610.3,1213.0 1610.5,1213.0 1611.3,1213.1 1612.3,1212.5 1613.3,1211.0 1614.3,1209.8 1615.3,1208.7 1616.3,1206.8 1617.0,1205.6 1617.3,1205.4 1618.3,1203.6 1619.3,1202.1 1619.5,1201.9 1620.3,1202.6 1621.3,1204.4 1622.0,1205.8 1622.3,1206.4 1623.3,1208.6 1624.3,1210.3 1624.4,1210.5 1625.3,1210.6 1626.3,1210.6 1627.0,1210.6 1627.3,1210.5 1628.3,1210.2 1629.3,1209.4 1630.1,1208.6 1630.3,1208.5 1631.3,1206.4 1632.3,1202.9 1633.0,1200.4 1633.3,1199.8 1634.3,1196.3 1635.3,1192.6 1635.7,1191.5 1636.3,1190.1 1637.3,1188.1 1638.2,1187.3 1638.3,1187.0 1639.3,1188.0 1640.3,1190.6 1640.7,1191.9 1641.3,1193.3 1642.3,1196.6 1643.3,1200.2 1644.3,1203.7 1645.3,1206.6 1645.9,1207.5 1646.3,1208.1 1647.3,1209.4 1648.3,1210.4 1649.3,1211.1 1649.5,1211.4 1650.3,1211.6 1651.3,1212.1 1652.3,1212.6 1653.3,1212.4 1654.3,1212.4 1654.5,1212.8 1655.3,1212.9 1656.3,1212.7 1657.3,1212.8 1658.3,1212.8 1659.3,1212.5 1660.3,1212.2 1661.3,1212.1 1662.3,1212.1 1663.3,1212.3 1664.3,1212.6 1665.3,1212.6 1666.0,1212.4 1666.3,1212.4 1667.3,1212.3 1668.3,1212.0 1669.3,1212.2 1670.3,1212.3 1671.3,1212.0 1672.3,1211.9 1673.3,1212.0 1674.3,1211.8 1675.3,1211.7 1676.3,1211.7 1677.3,1211.5 1677.5,1211.9 1678.3,1212.0 1679.3,1211.2 1680.3,1210.2 1680.5,1209.9 1681.3,1208.9 1682.3,1207.4 1683.3,1206.3 1683.8,1206.5 1684.3,1206.9 1685.3,1208.0 1686.3,1209.6 1687.0,1210.3 1687.3,1210.4 1688.3,1210.8 1689.3,1211.3 1690.3,1211.6 1690.4,1211.6 1691.3,1211.6 1692.3,1211.6 1693.3,1211.8 1694.3,1212.2 1695.3,1212.6 1696.3,1212.6 1697.3,1212.2 1698.3,1212.0 1699.3,1212.2 1700.3,1212.2 1701.3,1211.9 1702.3,1211.6 1703.3,1211.5 1704.3,1212.0 1705.0,1212.4 1705.3,1212.2 1706.3,1212.1 1707.3,1212.2 1708.3,1212.3 1709.3,1212.0 1710.3,1211.6 1711.3,1211.7 1712.3,1212.0 1713.3,1212.1 1714.3,1212.2 1715.3,1212.1 1716.3,1212.3 1717.3,1212.4 1718.3,1212.0 1719.3,1211.8 1720.3,1211.8 1720.5,1211.7 1721.3,1211.2 1722.3,1211.1 1723.3,1211.6 1724.3,1212.0 1725.3,1211.8 1726.3,1211.7 1727.3,1211.9 1728.3,1211.7 1729.3,1211.5 1730.3,1211.7 1731.3,1211.8 1732.3,1211.3 1733.3,1210.9 1734.3,1211.0 1735.3,1211.3 1736.3,1211.3 1737.3,1211.0 1738.3,1210.9 1739.3,1210.8 1740.3,1210.7 1741.3,1210.5 1742.3,1210.4 1743.3,1210.2 1744.3,1210.1 1745.3,1209.9 1746.3,1210.1 1747.3,1210.8 1748.3,1211.0 1749.3,1210.7 1750.0,1210.6 1750.3,1210.7 1751.3,1210.5 1752.3,1210.5 1753.3,1210.6 1754.3,1210.6 1755.3,1210.5 1756.3,1210.2 1757.3,1210.0 1758.3,1209.8 1759.3,1209.5 1760.3,1209.6 1761.3,1209.6 1762.3,1209.6 1763.3,1209.8 1764.3,1210.0 1765.3,1210.0 1766.3,1209.9 1767.3,1209.9 1768.3,1209.9 1769.3,1209.5 1770.3,1209.4 1771.3,1209.4 1772.3,1209.3 1773.3,1209.4 1774.3,1209.3 1775.3,1208.9 1776.3,1208.4 1777.3,1208.5 1777.9,1209.0 1778.3,1208.6 1779.3,1208.5 1780.3,1209.0 1781.3,1209.0 1782.3,1208.9 1783.3,1208.7 1784.3,1208.5 1785.3,1208.3 1786.3,1208.4 1787.3,1208.8 1788.3,1209.0 1789.3,1208.9 1790.3,1208.4 1791.3,1208.0 1792.3,1208.3 1793.3,1208.1 1794.3,1207.9 1795.3,1208.4 1796.3,1208.5 1797.3,1208.3 1798.3,1208.3 1799.3,1208.3 1800.0,1208.3 1800.3,1208.3 1801.3,1208.3 1802.3,1208.3 1803.3,1208.6 1804.3,1208.8 1805.3,1208.3 1806.3,1207.9 1807.3,1207.9 1808.3,1208.0 1809.3,1208.1 1810.3,1208.0 1811.3,1207.9 1812.3,1207.9 1813.3,1208.2 1814.3,1208.3 1815.3,1208.1 1816.3,1207.7 1817.3,1207.4 1818.3,1207.3 1819.3,1207.6 1820.3,1207.6 1821.3,1207.5 1822.3,1207.4 1823.3,1207.2 1824.3,1207.0 1825.3,1207.0 1826.3,1207.3 1827.3,1207.5 1828.3,1207.5 1828.5,1207.5"/>
<path style="fill:none;stroke:#1e1e1e;stroke-width:4.8" d="M138.7,1266.3 L138.7,67.7"/>
<path style="fill:none;stroke:#0c0c0c;stroke-width:3.3" d="M136.29999999999998,69.3 L1830.1999999999998,69.3"/>
<path style="fill:none;stroke:#0c0c0c;stroke-width:3.3" d="M1828.6,69.3 L1828.6,1288.6"/>
<path style="fill:none;stroke:#1e1e1e;stroke-width:4.6" d="M136.29999999999998,1264.0 L1828.6,1264.0"/>
<path class="tk" d="M186.7,1264.0 v13.3 M186.7,69.3 v13.9 M283.3,1264.0 v24.6 M283.3,69.3 v25.2 M379.9,1264.0 v13.3 M379.9,69.3 v13.9 M476.4,1264.0 v24.6 M476.4,69.3 v25.2 M573.0,1264.0 v13.3 M573.0,69.3 v13.9 M669.6,1264.0 v24.6 M669.6,69.3 v25.2 M766.2,1264.0 v13.3 M766.2,69.3 v13.9 M862.7,1264.0 v24.6 M862.7,69.3 v25.2 M959.3,1264.0 v13.3 M959.3,69.3 v13.9 M1055.9,1264.0 v24.6 M1055.9,69.3 v25.2 M1152.4,1264.0 v13.3 M1152.4,69.3 v13.9 M1249.0,1264.0 v24.6 M1249.0,69.3 v25.2 M1345.6,1264.0 v13.3 M1345.6,69.3 v13.9 M1442.1,1264.0 v24.6 M1442.1,69.3 v25.2 M1538.7,1264.0 v13.3 M1538.7,69.3 v13.9 M1635.3,1264.0 v24.6 M1635.3,69.3 v25.2 M1731.8,1264.0 v13.3 M1731.8,69.3 v13.9"/>
</g>
<g filter="url(#softt)">
<text class="tick" transform="translate(282.9,1349.3) scale(1,1.035)">200</text>
<text class="tick" transform="translate(476.0,1349.3) scale(1,1.035)">400</text>
<text class="tick" transform="translate(669.2,1349.3) scale(1,1.035)">600</text>
<text class="tick" transform="translate(862.3,1349.3) scale(1,1.035)">800</text>
<text class="tick" transform="translate(1055.5,1349.3) scale(1,1.035)">1000</text>
<text class="tick" transform="translate(1248.6,1349.3) scale(1,1.035)">1200</text>
<text class="tick" transform="translate(1441.7,1349.3) scale(1,1.035)">1400</text>
<text class="tick" transform="translate(1634.9,1349.3) scale(1,1.035)">1600</text>
<text class="tick" transform="translate(1828.0,1349.3) scale(1,1.035)">1800</text>
<text class="axl" transform="translate(0,1438.6) scale(1,1.0)" xml:space="preserve"><tspan x="729.5" dy="0.00" font-size="69.4">Wavenumber (cm</tspan><tspan x="1270.5" dy="-40.00" font-size="41">−</tspan><tspan x="1289.4" dy="0.00" font-size="41">1</tspan><tspan x="1313.2" dy="40.00" font-size="69.4">)</tspan></text>
<text class="axl" transform="translate(97.5,1019.5) rotate(-90) scale(1,1.0)">Raman Intensity (a.u.)</text>
<text class="leg" transform="translate(0,179.2) scale(1,1.04)" xml:space="preserve"><tspan x="1472.8" dy="0.00" font-size="60">α</tspan><tspan x="1508.7" dy="0.00" font-size="49">–</tspan><tspan x="1536.6" dy="0.00" font-size="60">V</tspan><tspan x="1574.8" dy="22.31" font-size="37">2</tspan><tspan x="1594.9" dy="-22.31" font-size="60">O</tspan><tspan x="1641.8" dy="22.31" font-size="37">5</tspan><tspan x="1660.9" dy="-22.31" font-size="60"> IO</tspan></text>
<text class="leg" transform="translate(0,477.2) scale(1,1.04)" xml:space="preserve"><tspan x="1207.7" dy="0.00" font-size="60">NH</tspan><tspan x="1293.8" dy="22.31" font-size="37">4</tspan><tspan x="1312.9" dy="-22.31" font-size="60">VO</tspan><tspan x="1400.0" dy="22.31" font-size="37">3</tspan><tspan x="1418.2" dy="-22.31" font-size="60">/PS</tspan><tspan x="1512.7" dy="0.00" font-size="60"> composite</tspan></text>
<text class="leg" transform="translate(0,772.0) scale(1,1.04)" xml:space="preserve"><tspan x="1522.2" dy="0.00" font-size="60">NH</tspan><tspan x="1609.0" dy="22.31" font-size="37">4</tspan><tspan x="1629.5" dy="-22.31" font-size="60">VO</tspan><tspan x="1716.0" dy="22.31" font-size="37">3</tspan></text>
<text class="leg" transform="translate(0,1061.2) scale(1,1.04)" xml:space="preserve"><tspan x="1533.5" dy="0.00" font-size="60">PS opal</tspan></text>
</g>
<rect x="1047.5" y="121.8" width="7" height="2.6" fill="#333" filter="url(#soft)"/>
</svg>
</body>
</html>
